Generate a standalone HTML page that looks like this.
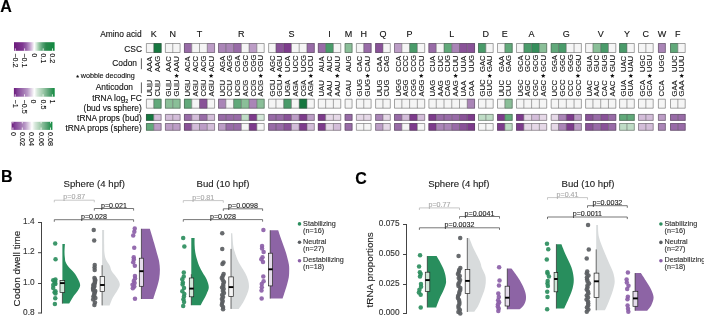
<!DOCTYPE html>
<html><head><meta charset="utf-8"><style>
html,body{margin:0;padding:0;background:#fff;}
body{width:704px;height:316px;overflow:hidden;}
svg{display:block;filter:blur(0.3px);}
text{font-family:"Liberation Sans",sans-serif;}
</style></head><body>
<svg width="704" height="316" viewBox="0 0 704 316">
<rect width="704" height="316" fill="#fff"/>
<text x="0.2" y="12.2" font-size="16" text-anchor="start" fill="#000" font-weight="bold" stroke="#000" stroke-width="0.12">A</text>
<text x="153.75" y="37.3" font-size="9" text-anchor="middle" fill="#111" stroke="#111" stroke-width="0.12">K</text>
<rect x="146" y="43.1" width="7.75" height="9.8" fill="#f5f5f5"/>
<rect x="153.75" y="43.1" width="7.75" height="9.8" fill="#15773f"/>
<path d="M146.4,43.5 H161.1 V52.5 H146.4 Z M153.75,43.5 V52.5" fill="none" stroke="#4a4a4a" stroke-opacity="0.6" stroke-width="0.8"/>
<rect x="146" y="98.8" width="7.75" height="9.8" fill="#f5f5f5"/>
<rect x="153.75" y="98.8" width="7.75" height="9.8" fill="#61a97a"/>
<path d="M146.4,99.2 H161.1 V108.2 H146.4 Z M153.75,99.2 V108.2" fill="none" stroke="#4a4a4a" stroke-opacity="0.6" stroke-width="0.8"/>
<rect x="146" y="114" width="7.75" height="6.8" fill="#15773f"/>
<rect x="153.75" y="114" width="7.75" height="6.8" fill="#d3bdd9"/>
<path d="M146.4,114.4 H161.1 V120.4 H146.4 Z M153.75,114.4 V120.4" fill="none" stroke="#4a4a4a" stroke-opacity="0.6" stroke-width="0.8"/>
<rect x="146" y="123.1" width="7.75" height="7.6" fill="#61a97a"/>
<rect x="153.75" y="123.1" width="7.75" height="7.6" fill="#bc9dc6"/>
<path d="M146.4,123.5 H161.1 V130.3 H146.4 Z M153.75,123.5 V130.3" fill="none" stroke="#4a4a4a" stroke-opacity="0.6" stroke-width="0.8"/>
<text transform="translate(152.47 72.0) rotate(-90)" font-size="7.6" fill="#111" stroke="#111" stroke-width="0.12">AAA</text>
<text transform="translate(152.47 96.4) rotate(-90)" font-size="7.6" fill="#111" stroke="#111" stroke-width="0.12">UUU</text>
<rect x="147.28" y="83.1" width="5.4" height="3.5" fill="#999" fill-opacity="0.95"/>
<text transform="translate(160.22 72.0) rotate(-90)" font-size="7.6" fill="#111" stroke="#111" stroke-width="0.12">AAG</text>
<text transform="translate(160.22 96.4) rotate(-90)" font-size="7.6" fill="#111" stroke="#111" stroke-width="0.12">CUU</text>
<rect x="155.03" y="83.1" width="5.4" height="3.5" fill="#999" fill-opacity="0.95"/>
<text x="172.75" y="37.3" font-size="9" text-anchor="middle" fill="#111" stroke="#111" stroke-width="0.12">N</text>
<rect x="165" y="43.1" width="7.75" height="9.8" fill="#f5f5f5"/>
<rect x="172.75" y="43.1" width="7.75" height="9.8" fill="#f5f5f5"/>
<path d="M165.4,43.5 H180.1 V52.5 H165.4 Z M172.75,43.5 V52.5" fill="none" stroke="#4a4a4a" stroke-opacity="0.6" stroke-width="0.8"/>
<rect x="165" y="98.8" width="7.75" height="9.8" fill="#8abf98"/>
<rect x="172.75" y="98.8" width="7.75" height="9.8" fill="#8abf98"/>
<path d="M165.4,99.2 H180.1 V108.2 H165.4 Z M172.75,99.2 V108.2" fill="none" stroke="#4a4a4a" stroke-opacity="0.6" stroke-width="0.8"/>
<rect x="165" y="114" width="7.75" height="6.8" fill="#d3bdd9"/>
<rect x="172.75" y="114" width="7.75" height="6.8" fill="#d3bdd9"/>
<path d="M165.4,114.4 H180.1 V120.4 H165.4 Z M172.75,114.4 V120.4" fill="none" stroke="#4a4a4a" stroke-opacity="0.6" stroke-width="0.8"/>
<rect x="165" y="123.1" width="7.75" height="7.6" fill="#bc9dc6"/>
<rect x="172.75" y="123.1" width="7.75" height="7.6" fill="#bc9dc6"/>
<path d="M165.4,123.5 H180.1 V130.3 H165.4 Z M172.75,123.5 V130.3" fill="none" stroke="#4a4a4a" stroke-opacity="0.6" stroke-width="0.8"/>
<text transform="translate(171.47 72.0) rotate(-90)" font-size="7.6" fill="#111" stroke="#111" stroke-width="0.12">AAC</text>
<text transform="translate(171.47 96.4) rotate(-90)" font-size="7.6" fill="#111" stroke="#111" stroke-width="0.12">GUU</text>
<rect x="166.28" y="83.1" width="5.4" height="3.5" fill="#999" fill-opacity="0.95"/>
<text transform="translate(179.22 72.0) rotate(-90)" font-size="7.6" fill="#111" stroke="#111" stroke-width="0.12">AAU</text>
<text transform="translate(179.22 96.4) rotate(-90)" font-size="7.6" fill="#111" stroke="#111" stroke-width="0.12">GUU</text>
<rect x="174.03" y="83.1" width="5.4" height="3.5" fill="#999" fill-opacity="0.95"/>
<path transform="translate(176.62 75.8)" d="M0.00,-2.40 L0.65,-0.89 L2.28,-0.74 L1.05,0.34 L1.41,1.94 L0.00,1.10 L-1.41,1.94 L-1.05,0.34 L-2.28,-0.74 L-0.65,-0.89 Z" fill="#111"/>
<text x="199.5" y="37.3" font-size="9" text-anchor="middle" fill="#111" stroke="#111" stroke-width="0.12">T</text>
<rect x="184" y="43.1" width="7.75" height="9.8" fill="#986ba7"/>
<rect x="191.75" y="43.1" width="7.75" height="9.8" fill="#f5f5f5"/>
<rect x="199.5" y="43.1" width="7.75" height="9.8" fill="#f5f5f5"/>
<rect x="207.25" y="43.1" width="7.75" height="9.8" fill="#bc9dc6"/>
<path d="M184.4,43.5 H214.6 V52.5 H184.4 Z M191.75,43.5 V52.5 M199.5,43.5 V52.5 M207.25,43.5 V52.5" fill="none" stroke="#4a4a4a" stroke-opacity="0.6" stroke-width="0.8"/>
<rect x="184" y="98.8" width="7.75" height="9.8" fill="#61a97a"/>
<rect x="191.75" y="98.8" width="7.75" height="9.8" fill="#f5f5f5"/>
<rect x="199.5" y="98.8" width="7.75" height="9.8" fill="#895298"/>
<rect x="207.25" y="98.8" width="7.75" height="9.8" fill="#f5f5f5"/>
<path d="M184.4,99.2 H214.6 V108.2 H184.4 Z M191.75,99.2 V108.2 M199.5,99.2 V108.2 M207.25,99.2 V108.2" fill="none" stroke="#4a4a4a" stroke-opacity="0.6" stroke-width="0.8"/>
<rect x="184" y="114" width="7.75" height="6.8" fill="#986ba7"/>
<rect x="191.75" y="114" width="7.75" height="6.8" fill="#d3bdd9"/>
<rect x="199.5" y="114" width="7.75" height="6.8" fill="#986ba7"/>
<rect x="207.25" y="114" width="7.75" height="6.8" fill="#d3bdd9"/>
<path d="M184.4,114.4 H214.6 V120.4 H184.4 Z M191.75,114.4 V120.4 M199.5,114.4 V120.4 M207.25,114.4 V120.4" fill="none" stroke="#4a4a4a" stroke-opacity="0.6" stroke-width="0.8"/>
<rect x="184" y="123.1" width="7.75" height="7.6" fill="#895298"/>
<rect x="191.75" y="123.1" width="7.75" height="7.6" fill="#d3bdd9"/>
<rect x="199.5" y="123.1" width="7.75" height="7.6" fill="#bc9dc6"/>
<rect x="207.25" y="123.1" width="7.75" height="7.6" fill="#d3bdd9"/>
<path d="M184.4,123.5 H214.6 V130.3 H184.4 Z M191.75,123.5 V130.3 M199.5,123.5 V130.3 M207.25,123.5 V130.3" fill="none" stroke="#4a4a4a" stroke-opacity="0.6" stroke-width="0.8"/>
<text transform="translate(190.47 72.0) rotate(-90)" font-size="7.6" fill="#111" stroke="#111" stroke-width="0.12">ACA</text>
<text transform="translate(190.47 96.4) rotate(-90)" font-size="7.6" fill="#111" stroke="#111" stroke-width="0.12">UGU</text>
<rect x="185.28" y="83.1" width="5.4" height="3.5" fill="#999" fill-opacity="0.55"/>
<text transform="translate(198.22 72.0) rotate(-90)" font-size="7.6" fill="#111" stroke="#111" stroke-width="0.12">ACC</text>
<text transform="translate(198.22 96.4) rotate(-90)" font-size="7.6" fill="#111" stroke="#111" stroke-width="0.12">AGU</text>
<rect x="193.03" y="83.1" width="5.4" height="3.5" fill="#999" fill-opacity="0.55"/>
<text transform="translate(205.97 72.0) rotate(-90)" font-size="7.6" fill="#111" stroke="#111" stroke-width="0.12">ACG</text>
<text transform="translate(205.97 96.4) rotate(-90)" font-size="7.6" fill="#111" stroke="#111" stroke-width="0.12">CGU</text>
<rect x="200.78" y="83.1" width="5.4" height="3.5" fill="#999" fill-opacity="0.55"/>
<text transform="translate(213.72 72.0) rotate(-90)" font-size="7.6" fill="#111" stroke="#111" stroke-width="0.12">ACU</text>
<text transform="translate(213.72 96.4) rotate(-90)" font-size="7.6" fill="#111" stroke="#111" stroke-width="0.12">AGU</text>
<rect x="208.53" y="83.1" width="5.4" height="3.5" fill="#999" fill-opacity="0.55"/>
<path transform="translate(211.12 75.8)" d="M0.00,-2.40 L0.65,-0.89 L2.28,-0.74 L1.05,0.34 L1.41,1.94 L0.00,1.10 L-1.41,1.94 L-1.05,0.34 L-2.28,-0.74 L-0.65,-0.89 Z" fill="#111"/>
<text x="241.35" y="37.3" font-size="9" text-anchor="middle" fill="#111" stroke="#111" stroke-width="0.12">R</text>
<rect x="218.1" y="43.1" width="7.75" height="9.8" fill="#aa85b7"/>
<rect x="225.85" y="43.1" width="7.75" height="9.8" fill="#aa85b7"/>
<rect x="233.6" y="43.1" width="7.75" height="9.8" fill="#986ba7"/>
<rect x="241.35" y="43.1" width="7.75" height="9.8" fill="#f5f5f5"/>
<rect x="249.1" y="43.1" width="7.75" height="9.8" fill="#bc9dc6"/>
<rect x="256.85" y="43.1" width="7.75" height="9.8" fill="#f5f5f5"/>
<path d="M218.5,43.5 H264.2 V52.5 H218.5 Z M225.85,43.5 V52.5 M233.6,43.5 V52.5 M241.35,43.5 V52.5 M249.1,43.5 V52.5 M256.85,43.5 V52.5" fill="none" stroke="#4a4a4a" stroke-opacity="0.6" stroke-width="0.8"/>
<rect x="218.1" y="98.8" width="7.75" height="9.8" fill="#aa85b7"/>
<rect x="225.85" y="98.8" width="7.75" height="9.8" fill="#f5f5f5"/>
<rect x="233.6" y="98.8" width="7.75" height="9.8" fill="#61a97a"/>
<rect x="241.35" y="98.8" width="7.75" height="9.8" fill="#8abf98"/>
<rect x="249.1" y="98.8" width="7.75" height="9.8" fill="#aa85b7"/>
<rect x="256.85" y="98.8" width="7.75" height="9.8" fill="#8abf98"/>
<path d="M218.5,99.2 H264.2 V108.2 H218.5 Z M225.85,99.2 V108.2 M233.6,99.2 V108.2 M241.35,99.2 V108.2 M249.1,99.2 V108.2 M256.85,99.2 V108.2" fill="none" stroke="#4a4a4a" stroke-opacity="0.6" stroke-width="0.8"/>
<rect x="218.1" y="114" width="7.75" height="6.8" fill="#986ba7"/>
<rect x="225.85" y="114" width="7.75" height="6.8" fill="#986ba7"/>
<rect x="233.6" y="114" width="7.75" height="6.8" fill="#986ba7"/>
<rect x="241.35" y="114" width="7.75" height="6.8" fill="#bfdcc6"/>
<rect x="249.1" y="114" width="7.75" height="6.8" fill="#7d3b8c"/>
<rect x="256.85" y="114" width="7.75" height="6.8" fill="#d4e7d9"/>
<path d="M218.5,114.4 H264.2 V120.4 H218.5 Z M225.85,114.4 V120.4 M233.6,114.4 V120.4 M241.35,114.4 V120.4 M249.1,114.4 V120.4 M256.85,114.4 V120.4" fill="none" stroke="#4a4a4a" stroke-opacity="0.6" stroke-width="0.8"/>
<rect x="218.1" y="123.1" width="7.75" height="7.6" fill="#bc9dc6"/>
<rect x="225.85" y="123.1" width="7.75" height="7.6" fill="#986ba7"/>
<rect x="233.6" y="123.1" width="7.75" height="7.6" fill="#986ba7"/>
<rect x="241.35" y="123.1" width="7.75" height="7.6" fill="#f5f5f5"/>
<rect x="249.1" y="123.1" width="7.75" height="7.6" fill="#7d3b8c"/>
<rect x="256.85" y="123.1" width="7.75" height="7.6" fill="#f5f5f5"/>
<path d="M218.5,123.5 H264.2 V130.3 H218.5 Z M225.85,123.5 V130.3 M233.6,123.5 V130.3 M241.35,123.5 V130.3 M249.1,123.5 V130.3 M256.85,123.5 V130.3" fill="none" stroke="#4a4a4a" stroke-opacity="0.6" stroke-width="0.8"/>
<text transform="translate(224.57 72.0) rotate(-90)" font-size="7.6" fill="#111" stroke="#111" stroke-width="0.12">AGA</text>
<text transform="translate(224.57 96.4) rotate(-90)" font-size="7.6" fill="#111" stroke="#111" stroke-width="0.12">UCU</text>
<rect x="219.38" y="83.1" width="5.4" height="3.5" fill="#999" fill-opacity="0.3"/>
<text transform="translate(232.32 72.0) rotate(-90)" font-size="7.6" fill="#111" stroke="#111" stroke-width="0.12">AGG</text>
<text transform="translate(232.32 96.4) rotate(-90)" font-size="7.6" fill="#111" stroke="#111" stroke-width="0.12">CCU</text>
<rect x="227.12" y="83.1" width="5.4" height="3.5" fill="#999" fill-opacity="0.3"/>
<text transform="translate(240.07 72.0) rotate(-90)" font-size="7.6" fill="#111" stroke="#111" stroke-width="0.12">CGA</text>
<text transform="translate(240.07 96.4) rotate(-90)" font-size="7.6" fill="#111" stroke="#111" stroke-width="0.12">UCG</text>
<rect x="234.88" y="83.1" width="5.4" height="3.5" fill="#999" fill-opacity="0.3"/>
<text transform="translate(247.82 72.0) rotate(-90)" font-size="7.6" fill="#111" stroke="#111" stroke-width="0.12">CGC</text>
<text transform="translate(247.82 96.4) rotate(-90)" font-size="7.6" fill="#111" stroke="#111" stroke-width="0.12">ACG</text>
<rect x="242.62" y="83.1" width="5.4" height="3.5" fill="#999" fill-opacity="0.3"/>
<text transform="translate(255.57 72.0) rotate(-90)" font-size="7.6" fill="#111" stroke="#111" stroke-width="0.12">CGG</text>
<text transform="translate(255.57 96.4) rotate(-90)" font-size="7.6" fill="#111" stroke="#111" stroke-width="0.12">CCG</text>
<rect x="250.38" y="83.1" width="5.4" height="3.5" fill="#999" fill-opacity="0.3"/>
<text transform="translate(263.33 72.0) rotate(-90)" font-size="7.6" fill="#111" stroke="#111" stroke-width="0.12">CGU</text>
<text transform="translate(263.33 96.4) rotate(-90)" font-size="7.6" fill="#111" stroke="#111" stroke-width="0.12">ACG</text>
<rect x="258.12" y="83.1" width="5.4" height="3.5" fill="#999" fill-opacity="0.3"/>
<path transform="translate(260.73 75.8)" d="M0.00,-2.40 L0.65,-0.89 L2.28,-0.74 L1.05,0.34 L1.41,1.94 L0.00,1.10 L-1.41,1.94 L-1.05,0.34 L-2.28,-0.74 L-0.65,-0.89 Z" fill="#111"/>
<text x="291.45" y="37.3" font-size="9" text-anchor="middle" fill="#111" stroke="#111" stroke-width="0.12">S</text>
<rect x="268.2" y="43.1" width="7.75" height="9.8" fill="#f5f5f5"/>
<rect x="275.95" y="43.1" width="7.75" height="9.8" fill="#895298"/>
<rect x="283.7" y="43.1" width="7.75" height="9.8" fill="#7d3b8c"/>
<rect x="291.45" y="43.1" width="7.75" height="9.8" fill="#f5f5f5"/>
<rect x="299.2" y="43.1" width="7.75" height="9.8" fill="#f5f5f5"/>
<rect x="306.95" y="43.1" width="7.75" height="9.8" fill="#986ba7"/>
<path d="M268.6,43.5 H314.3 V52.5 H268.6 Z M275.95,43.5 V52.5 M283.7,43.5 V52.5 M291.45,43.5 V52.5 M299.2,43.5 V52.5 M306.95,43.5 V52.5" fill="none" stroke="#4a4a4a" stroke-opacity="0.6" stroke-width="0.8"/>
<rect x="268.2" y="98.8" width="7.75" height="9.8" fill="#f5f5f5"/>
<rect x="275.95" y="98.8" width="7.75" height="9.8" fill="#f5f5f5"/>
<rect x="283.7" y="98.8" width="7.75" height="9.8" fill="#4a9b6a"/>
<rect x="291.45" y="98.8" width="7.75" height="9.8" fill="#f5f5f5"/>
<rect x="299.2" y="98.8" width="7.75" height="9.8" fill="#15773f"/>
<rect x="306.95" y="98.8" width="7.75" height="9.8" fill="#f5f5f5"/>
<path d="M268.6,99.2 H314.3 V108.2 H268.6 Z M275.95,99.2 V108.2 M283.7,99.2 V108.2 M291.45,99.2 V108.2 M299.2,99.2 V108.2 M306.95,99.2 V108.2" fill="none" stroke="#4a4a4a" stroke-opacity="0.6" stroke-width="0.8"/>
<rect x="268.2" y="114" width="7.75" height="6.8" fill="#986ba7"/>
<rect x="275.95" y="114" width="7.75" height="6.8" fill="#986ba7"/>
<rect x="283.7" y="114" width="7.75" height="6.8" fill="#895298"/>
<rect x="291.45" y="114" width="7.75" height="6.8" fill="#bc9dc6"/>
<rect x="299.2" y="114" width="7.75" height="6.8" fill="#7d3b8c"/>
<rect x="306.95" y="114" width="7.75" height="6.8" fill="#bc9dc6"/>
<path d="M268.6,114.4 H314.3 V120.4 H268.6 Z M275.95,114.4 V120.4 M283.7,114.4 V120.4 M291.45,114.4 V120.4 M299.2,114.4 V120.4 M306.95,114.4 V120.4" fill="none" stroke="#4a4a4a" stroke-opacity="0.6" stroke-width="0.8"/>
<rect x="268.2" y="123.1" width="7.75" height="7.6" fill="#986ba7"/>
<rect x="275.95" y="123.1" width="7.75" height="7.6" fill="#986ba7"/>
<rect x="283.7" y="123.1" width="7.75" height="7.6" fill="#895298"/>
<rect x="291.45" y="123.1" width="7.75" height="7.6" fill="#d3bdd9"/>
<rect x="299.2" y="123.1" width="7.75" height="7.6" fill="#7d3b8c"/>
<rect x="306.95" y="123.1" width="7.75" height="7.6" fill="#d3bdd9"/>
<path d="M268.6,123.5 H314.3 V130.3 H268.6 Z M275.95,123.5 V130.3 M283.7,123.5 V130.3 M291.45,123.5 V130.3 M299.2,123.5 V130.3 M306.95,123.5 V130.3" fill="none" stroke="#4a4a4a" stroke-opacity="0.6" stroke-width="0.8"/>
<text transform="translate(274.68 72.0) rotate(-90)" font-size="7.6" fill="#111" stroke="#111" stroke-width="0.12">AGC</text>
<text transform="translate(274.68 96.4) rotate(-90)" font-size="7.6" fill="#111" stroke="#111" stroke-width="0.12">GCU</text>
<rect x="269.47" y="83.1" width="5.4" height="3.5" fill="#999" fill-opacity="0.3"/>
<text transform="translate(282.43 72.0) rotate(-90)" font-size="7.6" fill="#111" stroke="#111" stroke-width="0.12">AGU</text>
<text transform="translate(282.43 96.4) rotate(-90)" font-size="7.6" fill="#111" stroke="#111" stroke-width="0.12">GCU</text>
<rect x="277.22" y="83.1" width="5.4" height="3.5" fill="#999" fill-opacity="0.3"/>
<path transform="translate(279.82 75.8)" d="M0.00,-2.40 L0.65,-0.89 L2.28,-0.74 L1.05,0.34 L1.41,1.94 L0.00,1.10 L-1.41,1.94 L-1.05,0.34 L-2.28,-0.74 L-0.65,-0.89 Z" fill="#111"/>
<text transform="translate(290.18 72.0) rotate(-90)" font-size="7.6" fill="#111" stroke="#111" stroke-width="0.12">UCA</text>
<text transform="translate(290.18 96.4) rotate(-90)" font-size="7.6" fill="#111" stroke="#111" stroke-width="0.12">UGA</text>
<rect x="284.97" y="83.1" width="5.4" height="3.5" fill="#999" fill-opacity="0.3"/>
<text transform="translate(297.93 72.0) rotate(-90)" font-size="7.6" fill="#111" stroke="#111" stroke-width="0.12">UCC</text>
<text transform="translate(297.93 96.4) rotate(-90)" font-size="7.6" fill="#111" stroke="#111" stroke-width="0.12">AGA</text>
<rect x="292.72" y="83.1" width="5.4" height="3.5" fill="#999" fill-opacity="0.3"/>
<text transform="translate(305.68 72.0) rotate(-90)" font-size="7.6" fill="#111" stroke="#111" stroke-width="0.12">UCG</text>
<text transform="translate(305.68 96.4) rotate(-90)" font-size="7.6" fill="#111" stroke="#111" stroke-width="0.12">CGA</text>
<rect x="300.47" y="83.1" width="5.4" height="3.5" fill="#999" fill-opacity="0.3"/>
<text transform="translate(313.43 72.0) rotate(-90)" font-size="7.6" fill="#111" stroke="#111" stroke-width="0.12">UCU</text>
<text transform="translate(313.43 96.4) rotate(-90)" font-size="7.6" fill="#111" stroke="#111" stroke-width="0.12">AGA</text>
<rect x="308.22" y="83.1" width="5.4" height="3.5" fill="#999" fill-opacity="0.3"/>
<path transform="translate(310.82 75.8)" d="M0.00,-2.40 L0.65,-0.89 L2.28,-0.74 L1.05,0.34 L1.41,1.94 L0.00,1.10 L-1.41,1.94 L-1.05,0.34 L-2.28,-0.74 L-0.65,-0.89 Z" fill="#111"/>
<text x="329.52" y="37.3" font-size="9" text-anchor="middle" fill="#111" stroke="#111" stroke-width="0.12">I</text>
<rect x="317.9" y="43.1" width="7.75" height="9.8" fill="#986ba7"/>
<rect x="325.65" y="43.1" width="7.75" height="9.8" fill="#4a9b6a"/>
<rect x="333.4" y="43.1" width="7.75" height="9.8" fill="#f5f5f5"/>
<path d="M318.3,43.5 H340.75 V52.5 H318.3 Z M325.65,43.5 V52.5 M333.4,43.5 V52.5" fill="none" stroke="#4a4a4a" stroke-opacity="0.6" stroke-width="0.8"/>
<rect x="317.9" y="98.8" width="7.75" height="9.8" fill="#f5f5f5"/>
<rect x="325.65" y="98.8" width="7.75" height="9.8" fill="#f5f5f5"/>
<rect x="333.4" y="98.8" width="7.75" height="9.8" fill="#f5f5f5"/>
<path d="M318.3,99.2 H340.75 V108.2 H318.3 Z M325.65,99.2 V108.2 M333.4,99.2 V108.2" fill="none" stroke="#4a4a4a" stroke-opacity="0.6" stroke-width="0.8"/>
<rect x="317.9" y="114" width="7.75" height="6.8" fill="#7d3b8c"/>
<rect x="325.65" y="114" width="7.75" height="6.8" fill="#e5d8e7"/>
<rect x="333.4" y="114" width="7.75" height="6.8" fill="#e5d8e7"/>
<path d="M318.3,114.4 H340.75 V120.4 H318.3 Z M325.65,114.4 V120.4 M333.4,114.4 V120.4" fill="none" stroke="#4a4a4a" stroke-opacity="0.6" stroke-width="0.8"/>
<rect x="317.9" y="123.1" width="7.75" height="7.6" fill="#7d3b8c"/>
<rect x="325.65" y="123.1" width="7.75" height="7.6" fill="#e5d8e7"/>
<rect x="333.4" y="123.1" width="7.75" height="7.6" fill="#d3bdd9"/>
<path d="M318.3,123.5 H340.75 V130.3 H318.3 Z M325.65,123.5 V130.3 M333.4,123.5 V130.3" fill="none" stroke="#4a4a4a" stroke-opacity="0.6" stroke-width="0.8"/>
<text transform="translate(324.38 72.0) rotate(-90)" font-size="7.6" fill="#111" stroke="#111" stroke-width="0.12">AUA</text>
<text transform="translate(324.38 96.4) rotate(-90)" font-size="7.6" fill="#111" stroke="#111" stroke-width="0.12">UAU</text>
<text transform="translate(332.12 72.0) rotate(-90)" font-size="7.6" fill="#111" stroke="#111" stroke-width="0.12">AUC</text>
<text transform="translate(332.12 96.4) rotate(-90)" font-size="7.6" fill="#111" stroke="#111" stroke-width="0.12">AAU</text>
<text transform="translate(339.88 72.0) rotate(-90)" font-size="7.6" fill="#111" stroke="#111" stroke-width="0.12">AUU</text>
<text transform="translate(339.88 96.4) rotate(-90)" font-size="7.6" fill="#111" stroke="#111" stroke-width="0.12">AAU</text>
<path transform="translate(337.27 75.8)" d="M0.00,-2.40 L0.65,-0.89 L2.28,-0.74 L1.05,0.34 L1.41,1.94 L0.00,1.10 L-1.41,1.94 L-1.05,0.34 L-2.28,-0.74 L-0.65,-0.89 Z" fill="#111"/>
<text x="348.57" y="37.3" font-size="9" text-anchor="middle" fill="#111" stroke="#111" stroke-width="0.12">M</text>
<rect x="344.7" y="43.1" width="7.75" height="9.8" fill="#8abf98"/>
<path d="M345.1,43.5 H352.05 V52.5 H345.1 Z" fill="none" stroke="#4a4a4a" stroke-opacity="0.6" stroke-width="0.8"/>
<rect x="344.7" y="98.8" width="7.75" height="9.8" fill="#f5f5f5"/>
<path d="M345.1,99.2 H352.05 V108.2 H345.1 Z" fill="none" stroke="#4a4a4a" stroke-opacity="0.6" stroke-width="0.8"/>
<rect x="344.7" y="114" width="7.75" height="6.8" fill="#986ba7"/>
<path d="M345.1,114.4 H352.05 V120.4 H345.1 Z" fill="none" stroke="#4a4a4a" stroke-opacity="0.6" stroke-width="0.8"/>
<rect x="344.7" y="123.1" width="7.75" height="7.6" fill="#986ba7"/>
<path d="M345.1,123.5 H352.05 V130.3 H345.1 Z" fill="none" stroke="#4a4a4a" stroke-opacity="0.6" stroke-width="0.8"/>
<text transform="translate(351.18 72.0) rotate(-90)" font-size="7.6" fill="#111" stroke="#111" stroke-width="0.12">AUG</text>
<text transform="translate(351.18 96.4) rotate(-90)" font-size="7.6" fill="#111" stroke="#111" stroke-width="0.12">CAU</text>
<text x="363.75" y="37.3" font-size="9" text-anchor="middle" fill="#111" stroke="#111" stroke-width="0.12">H</text>
<rect x="356" y="43.1" width="7.75" height="9.8" fill="#f5f5f5"/>
<rect x="363.75" y="43.1" width="7.75" height="9.8" fill="#986ba7"/>
<path d="M356.4,43.5 H371.1 V52.5 H356.4 Z M363.75,43.5 V52.5" fill="none" stroke="#4a4a4a" stroke-opacity="0.6" stroke-width="0.8"/>
<rect x="356" y="98.8" width="7.75" height="9.8" fill="#f5f5f5"/>
<rect x="363.75" y="98.8" width="7.75" height="9.8" fill="#f5f5f5"/>
<path d="M356.4,99.2 H371.1 V108.2 H356.4 Z M363.75,99.2 V108.2" fill="none" stroke="#4a4a4a" stroke-opacity="0.6" stroke-width="0.8"/>
<rect x="356" y="114" width="7.75" height="6.8" fill="#e5d8e7"/>
<rect x="363.75" y="114" width="7.75" height="6.8" fill="#e5d8e7"/>
<path d="M356.4,114.4 H371.1 V120.4 H356.4 Z M363.75,114.4 V120.4" fill="none" stroke="#4a4a4a" stroke-opacity="0.6" stroke-width="0.8"/>
<rect x="356" y="123.1" width="7.75" height="7.6" fill="#f5f5f5"/>
<rect x="363.75" y="123.1" width="7.75" height="7.6" fill="#f5f5f5"/>
<path d="M356.4,123.5 H371.1 V130.3 H356.4 Z M363.75,123.5 V130.3" fill="none" stroke="#4a4a4a" stroke-opacity="0.6" stroke-width="0.8"/>
<text transform="translate(362.48 72.0) rotate(-90)" font-size="7.6" fill="#111" stroke="#111" stroke-width="0.12">CAC</text>
<text transform="translate(362.48 96.4) rotate(-90)" font-size="7.6" fill="#111" stroke="#111" stroke-width="0.12">GUG</text>
<text transform="translate(370.23 72.0) rotate(-90)" font-size="7.6" fill="#111" stroke="#111" stroke-width="0.12">CAU</text>
<text transform="translate(370.23 96.4) rotate(-90)" font-size="7.6" fill="#111" stroke="#111" stroke-width="0.12">GUG</text>
<path transform="translate(367.62 75.8)" d="M0.00,-2.40 L0.65,-0.89 L2.28,-0.74 L1.05,0.34 L1.41,1.94 L0.00,1.10 L-1.41,1.94 L-1.05,0.34 L-2.28,-0.74 L-0.65,-0.89 Z" fill="#111"/>
<text x="382.95" y="37.3" font-size="9" text-anchor="middle" fill="#111" stroke="#111" stroke-width="0.12">Q</text>
<rect x="375.2" y="43.1" width="7.75" height="9.8" fill="#895298"/>
<rect x="382.95" y="43.1" width="7.75" height="9.8" fill="#f5f5f5"/>
<path d="M375.6,43.5 H390.3 V52.5 H375.6 Z M382.95,43.5 V52.5" fill="none" stroke="#4a4a4a" stroke-opacity="0.6" stroke-width="0.8"/>
<rect x="375.2" y="98.8" width="7.75" height="9.8" fill="#f5f5f5"/>
<rect x="382.95" y="98.8" width="7.75" height="9.8" fill="#f5f5f5"/>
<path d="M375.6,99.2 H390.3 V108.2 H375.6 Z M382.95,99.2 V108.2" fill="none" stroke="#4a4a4a" stroke-opacity="0.6" stroke-width="0.8"/>
<rect x="375.2" y="114" width="7.75" height="6.8" fill="#aa85b7"/>
<rect x="382.95" y="114" width="7.75" height="6.8" fill="#e5d8e7"/>
<path d="M375.6,114.4 H390.3 V120.4 H375.6 Z M382.95,114.4 V120.4" fill="none" stroke="#4a4a4a" stroke-opacity="0.6" stroke-width="0.8"/>
<rect x="375.2" y="123.1" width="7.75" height="7.6" fill="#bc9dc6"/>
<rect x="382.95" y="123.1" width="7.75" height="7.6" fill="#e5d8e7"/>
<path d="M375.6,123.5 H390.3 V130.3 H375.6 Z M382.95,123.5 V130.3" fill="none" stroke="#4a4a4a" stroke-opacity="0.6" stroke-width="0.8"/>
<text transform="translate(381.68 72.0) rotate(-90)" font-size="7.6" fill="#111" stroke="#111" stroke-width="0.12">CAA</text>
<text transform="translate(381.68 96.4) rotate(-90)" font-size="7.6" fill="#111" stroke="#111" stroke-width="0.12">UUG</text>
<text transform="translate(389.43 72.0) rotate(-90)" font-size="7.6" fill="#111" stroke="#111" stroke-width="0.12">CAG</text>
<text transform="translate(389.43 96.4) rotate(-90)" font-size="7.6" fill="#111" stroke="#111" stroke-width="0.12">CUG</text>
<text x="409.6" y="37.3" font-size="9" text-anchor="middle" fill="#111" stroke="#111" stroke-width="0.12">P</text>
<rect x="394.1" y="43.1" width="7.75" height="9.8" fill="#bc9dc6"/>
<rect x="401.85" y="43.1" width="7.75" height="9.8" fill="#f5f5f5"/>
<rect x="409.6" y="43.1" width="7.75" height="9.8" fill="#4a9b6a"/>
<rect x="417.35" y="43.1" width="7.75" height="9.8" fill="#f5f5f5"/>
<path d="M394.5,43.5 H424.7 V52.5 H394.5 Z M401.85,43.5 V52.5 M409.6,43.5 V52.5 M417.35,43.5 V52.5" fill="none" stroke="#4a4a4a" stroke-opacity="0.6" stroke-width="0.8"/>
<rect x="394.1" y="98.8" width="7.75" height="9.8" fill="#f5f5f5"/>
<rect x="401.85" y="98.8" width="7.75" height="9.8" fill="#f5f5f5"/>
<rect x="409.6" y="98.8" width="7.75" height="9.8" fill="#f5f5f5"/>
<rect x="417.35" y="98.8" width="7.75" height="9.8" fill="#f5f5f5"/>
<path d="M394.5,99.2 H424.7 V108.2 H394.5 Z M401.85,99.2 V108.2 M409.6,99.2 V108.2 M417.35,99.2 V108.2" fill="none" stroke="#4a4a4a" stroke-opacity="0.6" stroke-width="0.8"/>
<rect x="394.1" y="114" width="7.75" height="6.8" fill="#986ba7"/>
<rect x="401.85" y="114" width="7.75" height="6.8" fill="#d3bdd9"/>
<rect x="409.6" y="114" width="7.75" height="6.8" fill="#7d3b8c"/>
<rect x="417.35" y="114" width="7.75" height="6.8" fill="#d3bdd9"/>
<path d="M394.5,114.4 H424.7 V120.4 H394.5 Z M401.85,114.4 V120.4 M409.6,114.4 V120.4 M417.35,114.4 V120.4" fill="none" stroke="#4a4a4a" stroke-opacity="0.6" stroke-width="0.8"/>
<rect x="394.1" y="123.1" width="7.75" height="7.6" fill="#986ba7"/>
<rect x="401.85" y="123.1" width="7.75" height="7.6" fill="#f5f5f5"/>
<rect x="409.6" y="123.1" width="7.75" height="7.6" fill="#7d3b8c"/>
<rect x="417.35" y="123.1" width="7.75" height="7.6" fill="#f5f5f5"/>
<path d="M394.5,123.5 H424.7 V130.3 H394.5 Z M401.85,123.5 V130.3 M409.6,123.5 V130.3 M417.35,123.5 V130.3" fill="none" stroke="#4a4a4a" stroke-opacity="0.6" stroke-width="0.8"/>
<text transform="translate(400.58 72.0) rotate(-90)" font-size="7.6" fill="#111" stroke="#111" stroke-width="0.12">CCA</text>
<text transform="translate(400.58 96.4) rotate(-90)" font-size="7.6" fill="#111" stroke="#111" stroke-width="0.12">UGG</text>
<text transform="translate(408.33 72.0) rotate(-90)" font-size="7.6" fill="#111" stroke="#111" stroke-width="0.12">CCC</text>
<text transform="translate(408.33 96.4) rotate(-90)" font-size="7.6" fill="#111" stroke="#111" stroke-width="0.12">AGG</text>
<text transform="translate(416.08 72.0) rotate(-90)" font-size="7.6" fill="#111" stroke="#111" stroke-width="0.12">CCG</text>
<text transform="translate(416.08 96.4) rotate(-90)" font-size="7.6" fill="#111" stroke="#111" stroke-width="0.12">CGG</text>
<text transform="translate(423.83 72.0) rotate(-90)" font-size="7.6" fill="#111" stroke="#111" stroke-width="0.12">CCU</text>
<text transform="translate(423.83 96.4) rotate(-90)" font-size="7.6" fill="#111" stroke="#111" stroke-width="0.12">AGG</text>
<path transform="translate(421.23 75.8)" d="M0.00,-2.40 L0.65,-0.89 L2.28,-0.74 L1.05,0.34 L1.41,1.94 L0.00,1.10 L-1.41,1.94 L-1.05,0.34 L-2.28,-0.74 L-0.65,-0.89 Z" fill="#111"/>
<text x="451.75" y="37.3" font-size="9" text-anchor="middle" fill="#111" stroke="#111" stroke-width="0.12">L</text>
<rect x="428.5" y="43.1" width="7.75" height="9.8" fill="#986ba7"/>
<rect x="436.25" y="43.1" width="7.75" height="9.8" fill="#f5f5f5"/>
<rect x="444" y="43.1" width="7.75" height="9.8" fill="#61a97a"/>
<rect x="451.75" y="43.1" width="7.75" height="9.8" fill="#aa85b7"/>
<rect x="459.5" y="43.1" width="7.75" height="9.8" fill="#895298"/>
<rect x="467.25" y="43.1" width="7.75" height="9.8" fill="#895298"/>
<path d="M428.9,43.5 H474.6 V52.5 H428.9 Z M436.25,43.5 V52.5 M444,43.5 V52.5 M451.75,43.5 V52.5 M459.5,43.5 V52.5 M467.25,43.5 V52.5" fill="none" stroke="#4a4a4a" stroke-opacity="0.6" stroke-width="0.8"/>
<rect x="428.5" y="98.8" width="7.75" height="9.8" fill="#f5f5f5"/>
<rect x="436.25" y="98.8" width="7.75" height="9.8" fill="#f5f5f5"/>
<rect x="444" y="98.8" width="7.75" height="9.8" fill="#f5f5f5"/>
<rect x="451.75" y="98.8" width="7.75" height="9.8" fill="#f5f5f5"/>
<rect x="459.5" y="98.8" width="7.75" height="9.8" fill="#f5f5f5"/>
<rect x="467.25" y="98.8" width="7.75" height="9.8" fill="#aa85b7"/>
<path d="M428.9,99.2 H474.6 V108.2 H428.9 Z M436.25,99.2 V108.2 M444,99.2 V108.2 M451.75,99.2 V108.2 M459.5,99.2 V108.2 M467.25,99.2 V108.2" fill="none" stroke="#4a4a4a" stroke-opacity="0.6" stroke-width="0.8"/>
<rect x="428.5" y="114" width="7.75" height="6.8" fill="#7d3b8c"/>
<rect x="436.25" y="114" width="7.75" height="6.8" fill="#986ba7"/>
<rect x="444" y="114" width="7.75" height="6.8" fill="#986ba7"/>
<rect x="451.75" y="114" width="7.75" height="6.8" fill="#986ba7"/>
<rect x="459.5" y="114" width="7.75" height="6.8" fill="#895298"/>
<rect x="467.25" y="114" width="7.75" height="6.8" fill="#7d3b8c"/>
<path d="M428.9,114.4 H474.6 V120.4 H428.9 Z M436.25,114.4 V120.4 M444,114.4 V120.4 M451.75,114.4 V120.4 M459.5,114.4 V120.4 M467.25,114.4 V120.4" fill="none" stroke="#4a4a4a" stroke-opacity="0.6" stroke-width="0.8"/>
<rect x="428.5" y="123.1" width="7.75" height="7.6" fill="#7d3b8c"/>
<rect x="436.25" y="123.1" width="7.75" height="7.6" fill="#aa85b7"/>
<rect x="444" y="123.1" width="7.75" height="7.6" fill="#aa85b7"/>
<rect x="451.75" y="123.1" width="7.75" height="7.6" fill="#986ba7"/>
<rect x="459.5" y="123.1" width="7.75" height="7.6" fill="#895298"/>
<rect x="467.25" y="123.1" width="7.75" height="7.6" fill="#7d3b8c"/>
<path d="M428.9,123.5 H474.6 V130.3 H428.9 Z M436.25,123.5 V130.3 M444,123.5 V130.3 M451.75,123.5 V130.3 M459.5,123.5 V130.3 M467.25,123.5 V130.3" fill="none" stroke="#4a4a4a" stroke-opacity="0.6" stroke-width="0.8"/>
<text transform="translate(434.98 72.0) rotate(-90)" font-size="7.6" fill="#111" stroke="#111" stroke-width="0.12">CUA</text>
<text transform="translate(434.98 96.4) rotate(-90)" font-size="7.6" fill="#111" stroke="#111" stroke-width="0.12">UAG</text>
<text transform="translate(442.73 72.0) rotate(-90)" font-size="7.6" fill="#111" stroke="#111" stroke-width="0.12">CUC</text>
<text transform="translate(442.73 96.4) rotate(-90)" font-size="7.6" fill="#111" stroke="#111" stroke-width="0.12">AAG</text>
<text transform="translate(450.48 72.0) rotate(-90)" font-size="7.6" fill="#111" stroke="#111" stroke-width="0.12">CUG</text>
<text transform="translate(450.48 96.4) rotate(-90)" font-size="7.6" fill="#111" stroke="#111" stroke-width="0.12">CAG</text>
<text transform="translate(458.23 72.0) rotate(-90)" font-size="7.6" fill="#111" stroke="#111" stroke-width="0.12">CUU</text>
<text transform="translate(458.23 96.4) rotate(-90)" font-size="7.6" fill="#111" stroke="#111" stroke-width="0.12">AAG</text>
<path transform="translate(455.62 75.8)" d="M0.00,-2.40 L0.65,-0.89 L2.28,-0.74 L1.05,0.34 L1.41,1.94 L0.00,1.10 L-1.41,1.94 L-1.05,0.34 L-2.28,-0.74 L-0.65,-0.89 Z" fill="#111"/>
<text transform="translate(465.98 72.0) rotate(-90)" font-size="7.6" fill="#111" stroke="#111" stroke-width="0.12">UUA</text>
<text transform="translate(465.98 96.4) rotate(-90)" font-size="7.6" fill="#111" stroke="#111" stroke-width="0.12">UAA</text>
<text transform="translate(473.73 72.0) rotate(-90)" font-size="7.6" fill="#111" stroke="#111" stroke-width="0.12">UUG</text>
<text transform="translate(473.73 96.4) rotate(-90)" font-size="7.6" fill="#111" stroke="#111" stroke-width="0.12">CAA</text>
<text x="485.85" y="37.3" font-size="9" text-anchor="middle" fill="#111" stroke="#111" stroke-width="0.12">D</text>
<rect x="478.1" y="43.1" width="7.75" height="9.8" fill="#4a9b6a"/>
<rect x="485.85" y="43.1" width="7.75" height="9.8" fill="#f5f5f5"/>
<path d="M478.5,43.5 H493.2 V52.5 H478.5 Z M485.85,43.5 V52.5" fill="none" stroke="#4a4a4a" stroke-opacity="0.6" stroke-width="0.8"/>
<rect x="478.1" y="98.8" width="7.75" height="9.8" fill="#f5f5f5"/>
<rect x="485.85" y="98.8" width="7.75" height="9.8" fill="#f5f5f5"/>
<path d="M478.5,99.2 H493.2 V108.2 H478.5 Z M485.85,99.2 V108.2" fill="none" stroke="#4a4a4a" stroke-opacity="0.6" stroke-width="0.8"/>
<rect x="478.1" y="114" width="7.75" height="6.8" fill="#bfdcc6"/>
<rect x="485.85" y="114" width="7.75" height="6.8" fill="#bfdcc6"/>
<path d="M478.5,114.4 H493.2 V120.4 H478.5 Z M485.85,114.4 V120.4" fill="none" stroke="#4a4a4a" stroke-opacity="0.6" stroke-width="0.8"/>
<rect x="478.1" y="123.1" width="7.75" height="7.6" fill="#f5f5f5"/>
<rect x="485.85" y="123.1" width="7.75" height="7.6" fill="#f5f5f5"/>
<path d="M478.5,123.5 H493.2 V130.3 H478.5 Z M485.85,123.5 V130.3" fill="none" stroke="#4a4a4a" stroke-opacity="0.6" stroke-width="0.8"/>
<text transform="translate(484.58 72.0) rotate(-90)" font-size="7.6" fill="#111" stroke="#111" stroke-width="0.12">GAC</text>
<text transform="translate(484.58 96.4) rotate(-90)" font-size="7.6" fill="#111" stroke="#111" stroke-width="0.12">GUC</text>
<text transform="translate(492.33 72.0) rotate(-90)" font-size="7.6" fill="#111" stroke="#111" stroke-width="0.12">GAU</text>
<text transform="translate(492.33 96.4) rotate(-90)" font-size="7.6" fill="#111" stroke="#111" stroke-width="0.12">GUC</text>
<path transform="translate(489.73 75.8)" d="M0.00,-2.40 L0.65,-0.89 L2.28,-0.74 L1.05,0.34 L1.41,1.94 L0.00,1.10 L-1.41,1.94 L-1.05,0.34 L-2.28,-0.74 L-0.65,-0.89 Z" fill="#111"/>
<text x="504.85" y="37.3" font-size="9" text-anchor="middle" fill="#111" stroke="#111" stroke-width="0.12">E</text>
<rect x="497.1" y="43.1" width="7.75" height="9.8" fill="#f5f5f5"/>
<rect x="504.85" y="43.1" width="7.75" height="9.8" fill="#61a97a"/>
<path d="M497.5,43.5 H512.2 V52.5 H497.5 Z M504.85,43.5 V52.5" fill="none" stroke="#4a4a4a" stroke-opacity="0.6" stroke-width="0.8"/>
<rect x="497.1" y="98.8" width="7.75" height="9.8" fill="#f5f5f5"/>
<rect x="504.85" y="98.8" width="7.75" height="9.8" fill="#8abf98"/>
<path d="M497.5,99.2 H512.2 V108.2 H497.5 Z M504.85,99.2 V108.2" fill="none" stroke="#4a4a4a" stroke-opacity="0.6" stroke-width="0.8"/>
<rect x="497.1" y="114" width="7.75" height="6.8" fill="#7d3b8c"/>
<rect x="504.85" y="114" width="7.75" height="6.8" fill="#61a97a"/>
<path d="M497.5,114.4 H512.2 V120.4 H497.5 Z M504.85,114.4 V120.4" fill="none" stroke="#4a4a4a" stroke-opacity="0.6" stroke-width="0.8"/>
<rect x="497.1" y="123.1" width="7.75" height="7.6" fill="#7d3b8c"/>
<rect x="504.85" y="123.1" width="7.75" height="7.6" fill="#bfdcc6"/>
<path d="M497.5,123.5 H512.2 V130.3 H497.5 Z M504.85,123.5 V130.3" fill="none" stroke="#4a4a4a" stroke-opacity="0.6" stroke-width="0.8"/>
<text transform="translate(503.58 72.0) rotate(-90)" font-size="7.6" fill="#111" stroke="#111" stroke-width="0.12">GAA</text>
<text transform="translate(503.58 96.4) rotate(-90)" font-size="7.6" fill="#111" stroke="#111" stroke-width="0.12">UUC</text>
<text transform="translate(511.33 72.0) rotate(-90)" font-size="7.6" fill="#111" stroke="#111" stroke-width="0.12">GAG</text>
<text transform="translate(511.33 96.4) rotate(-90)" font-size="7.6" fill="#111" stroke="#111" stroke-width="0.12">CUC</text>
<text x="531.6" y="37.3" font-size="9" text-anchor="middle" fill="#111" stroke="#111" stroke-width="0.12">A</text>
<rect x="516.1" y="43.1" width="7.75" height="9.8" fill="#f5f5f5"/>
<rect x="523.85" y="43.1" width="7.75" height="9.8" fill="#4a9b6a"/>
<rect x="531.6" y="43.1" width="7.75" height="9.8" fill="#358e5b"/>
<rect x="539.35" y="43.1" width="7.75" height="9.8" fill="#8abf98"/>
<path d="M516.5,43.5 H546.7 V52.5 H516.5 Z M523.85,43.5 V52.5 M531.6,43.5 V52.5 M539.35,43.5 V52.5" fill="none" stroke="#4a4a4a" stroke-opacity="0.6" stroke-width="0.8"/>
<rect x="516.1" y="98.8" width="7.75" height="9.8" fill="#f5f5f5"/>
<rect x="523.85" y="98.8" width="7.75" height="9.8" fill="#f5f5f5"/>
<rect x="531.6" y="98.8" width="7.75" height="9.8" fill="#f5f5f5"/>
<rect x="539.35" y="98.8" width="7.75" height="9.8" fill="#f5f5f5"/>
<path d="M516.5,99.2 H546.7 V108.2 H516.5 Z M523.85,99.2 V108.2 M531.6,99.2 V108.2 M539.35,99.2 V108.2" fill="none" stroke="#4a4a4a" stroke-opacity="0.6" stroke-width="0.8"/>
<rect x="516.1" y="114" width="7.75" height="6.8" fill="#7d3b8c"/>
<rect x="523.85" y="114" width="7.75" height="6.8" fill="#e5d8e7"/>
<rect x="531.6" y="114" width="7.75" height="6.8" fill="#d3bdd9"/>
<rect x="539.35" y="114" width="7.75" height="6.8" fill="#e5d8e7"/>
<path d="M516.5,114.4 H546.7 V120.4 H516.5 Z M523.85,114.4 V120.4 M531.6,114.4 V120.4 M539.35,114.4 V120.4" fill="none" stroke="#4a4a4a" stroke-opacity="0.6" stroke-width="0.8"/>
<rect x="516.1" y="123.1" width="7.75" height="7.6" fill="#7d3b8c"/>
<rect x="523.85" y="123.1" width="7.75" height="7.6" fill="#e5d8e7"/>
<rect x="531.6" y="123.1" width="7.75" height="7.6" fill="#e5d8e7"/>
<rect x="539.35" y="123.1" width="7.75" height="7.6" fill="#e5d8e7"/>
<path d="M516.5,123.5 H546.7 V130.3 H516.5 Z M523.85,123.5 V130.3 M531.6,123.5 V130.3 M539.35,123.5 V130.3" fill="none" stroke="#4a4a4a" stroke-opacity="0.6" stroke-width="0.8"/>
<text transform="translate(522.58 72.0) rotate(-90)" font-size="7.6" fill="#111" stroke="#111" stroke-width="0.12">GCA</text>
<text transform="translate(522.58 96.4) rotate(-90)" font-size="7.6" fill="#111" stroke="#111" stroke-width="0.12">UGC</text>
<text transform="translate(530.33 72.0) rotate(-90)" font-size="7.6" fill="#111" stroke="#111" stroke-width="0.12">GCC</text>
<text transform="translate(530.33 96.4) rotate(-90)" font-size="7.6" fill="#111" stroke="#111" stroke-width="0.12">AGC</text>
<text transform="translate(538.08 72.0) rotate(-90)" font-size="7.6" fill="#111" stroke="#111" stroke-width="0.12">GCG</text>
<text transform="translate(538.08 96.4) rotate(-90)" font-size="7.6" fill="#111" stroke="#111" stroke-width="0.12">CGC</text>
<text transform="translate(545.83 72.0) rotate(-90)" font-size="7.6" fill="#111" stroke="#111" stroke-width="0.12">GCU</text>
<text transform="translate(545.83 96.4) rotate(-90)" font-size="7.6" fill="#111" stroke="#111" stroke-width="0.12">AGC</text>
<path transform="translate(543.23 75.8)" d="M0.00,-2.40 L0.65,-0.89 L2.28,-0.74 L1.05,0.34 L1.41,1.94 L0.00,1.10 L-1.41,1.94 L-1.05,0.34 L-2.28,-0.74 L-0.65,-0.89 Z" fill="#111"/>
<text x="566.3" y="37.3" font-size="9" text-anchor="middle" fill="#111" stroke="#111" stroke-width="0.12">G</text>
<rect x="550.8" y="43.1" width="7.75" height="9.8" fill="#61a97a"/>
<rect x="558.55" y="43.1" width="7.75" height="9.8" fill="#4a9b6a"/>
<rect x="566.3" y="43.1" width="7.75" height="9.8" fill="#f5f5f5"/>
<rect x="574.05" y="43.1" width="7.75" height="9.8" fill="#f5f5f5"/>
<path d="M551.2,43.5 H581.4 V52.5 H551.2 Z M558.55,43.5 V52.5 M566.3,43.5 V52.5 M574.05,43.5 V52.5" fill="none" stroke="#4a4a4a" stroke-opacity="0.6" stroke-width="0.8"/>
<rect x="550.8" y="98.8" width="7.75" height="9.8" fill="#f5f5f5"/>
<rect x="558.55" y="98.8" width="7.75" height="9.8" fill="#f5f5f5"/>
<rect x="566.3" y="98.8" width="7.75" height="9.8" fill="#f5f5f5"/>
<rect x="574.05" y="98.8" width="7.75" height="9.8" fill="#f5f5f5"/>
<path d="M551.2,99.2 H581.4 V108.2 H551.2 Z M558.55,99.2 V108.2 M566.3,99.2 V108.2 M574.05,99.2 V108.2" fill="none" stroke="#4a4a4a" stroke-opacity="0.6" stroke-width="0.8"/>
<rect x="550.8" y="114" width="7.75" height="6.8" fill="#e5d8e7"/>
<rect x="558.55" y="114" width="7.75" height="6.8" fill="#aa85b7"/>
<rect x="566.3" y="114" width="7.75" height="6.8" fill="#7d3b8c"/>
<rect x="574.05" y="114" width="7.75" height="6.8" fill="#bc9dc6"/>
<path d="M551.2,114.4 H581.4 V120.4 H551.2 Z M558.55,114.4 V120.4 M566.3,114.4 V120.4 M574.05,114.4 V120.4" fill="none" stroke="#4a4a4a" stroke-opacity="0.6" stroke-width="0.8"/>
<rect x="550.8" y="123.1" width="7.75" height="7.6" fill="#e5d8e7"/>
<rect x="558.55" y="123.1" width="7.75" height="7.6" fill="#aa85b7"/>
<rect x="566.3" y="123.1" width="7.75" height="7.6" fill="#7d3b8c"/>
<rect x="574.05" y="123.1" width="7.75" height="7.6" fill="#bc9dc6"/>
<path d="M551.2,123.5 H581.4 V130.3 H551.2 Z M558.55,123.5 V130.3 M566.3,123.5 V130.3 M574.05,123.5 V130.3" fill="none" stroke="#4a4a4a" stroke-opacity="0.6" stroke-width="0.8"/>
<text transform="translate(557.27 72.0) rotate(-90)" font-size="7.6" fill="#111" stroke="#111" stroke-width="0.12">GGA</text>
<text transform="translate(557.27 96.4) rotate(-90)" font-size="7.6" fill="#111" stroke="#111" stroke-width="0.12">UCC</text>
<text transform="translate(565.02 72.0) rotate(-90)" font-size="7.6" fill="#111" stroke="#111" stroke-width="0.12">GGC</text>
<text transform="translate(565.02 96.4) rotate(-90)" font-size="7.6" fill="#111" stroke="#111" stroke-width="0.12">GCC</text>
<text transform="translate(572.77 72.0) rotate(-90)" font-size="7.6" fill="#111" stroke="#111" stroke-width="0.12">GGG</text>
<text transform="translate(572.77 96.4) rotate(-90)" font-size="7.6" fill="#111" stroke="#111" stroke-width="0.12">CCC</text>
<text transform="translate(580.52 72.0) rotate(-90)" font-size="7.6" fill="#111" stroke="#111" stroke-width="0.12">GGU</text>
<text transform="translate(580.52 96.4) rotate(-90)" font-size="7.6" fill="#111" stroke="#111" stroke-width="0.12">GCC</text>
<path transform="translate(577.92 75.8)" d="M0.00,-2.40 L0.65,-0.89 L2.28,-0.74 L1.05,0.34 L1.41,1.94 L0.00,1.10 L-1.41,1.94 L-1.05,0.34 L-2.28,-0.74 L-0.65,-0.89 Z" fill="#111"/>
<text x="600.7" y="37.3" font-size="9" text-anchor="middle" fill="#111" stroke="#111" stroke-width="0.12">V</text>
<rect x="585.2" y="43.1" width="7.75" height="9.8" fill="#f5f5f5"/>
<rect x="592.95" y="43.1" width="7.75" height="9.8" fill="#8abf98"/>
<rect x="600.7" y="43.1" width="7.75" height="9.8" fill="#4a9b6a"/>
<rect x="608.45" y="43.1" width="7.75" height="9.8" fill="#f5f5f5"/>
<path d="M585.6,43.5 H615.8 V52.5 H585.6 Z M592.95,43.5 V52.5 M600.7,43.5 V52.5 M608.45,43.5 V52.5" fill="none" stroke="#4a4a4a" stroke-opacity="0.6" stroke-width="0.8"/>
<rect x="585.2" y="98.8" width="7.75" height="9.8" fill="#f5f5f5"/>
<rect x="592.95" y="98.8" width="7.75" height="9.8" fill="#f5f5f5"/>
<rect x="600.7" y="98.8" width="7.75" height="9.8" fill="#f5f5f5"/>
<rect x="608.45" y="98.8" width="7.75" height="9.8" fill="#f5f5f5"/>
<path d="M585.6,99.2 H615.8 V108.2 H585.6 Z M592.95,99.2 V108.2 M600.7,99.2 V108.2 M608.45,99.2 V108.2" fill="none" stroke="#4a4a4a" stroke-opacity="0.6" stroke-width="0.8"/>
<rect x="585.2" y="114" width="7.75" height="6.8" fill="#895298"/>
<rect x="592.95" y="114" width="7.75" height="6.8" fill="#986ba7"/>
<rect x="600.7" y="114" width="7.75" height="6.8" fill="#895298"/>
<rect x="608.45" y="114" width="7.75" height="6.8" fill="#986ba7"/>
<path d="M585.6,114.4 H615.8 V120.4 H585.6 Z M592.95,114.4 V120.4 M600.7,114.4 V120.4 M608.45,114.4 V120.4" fill="none" stroke="#4a4a4a" stroke-opacity="0.6" stroke-width="0.8"/>
<rect x="585.2" y="123.1" width="7.75" height="7.6" fill="#895298"/>
<rect x="592.95" y="123.1" width="7.75" height="7.6" fill="#986ba7"/>
<rect x="600.7" y="123.1" width="7.75" height="7.6" fill="#895298"/>
<rect x="608.45" y="123.1" width="7.75" height="7.6" fill="#986ba7"/>
<path d="M585.6,123.5 H615.8 V130.3 H585.6 Z M592.95,123.5 V130.3 M600.7,123.5 V130.3 M608.45,123.5 V130.3" fill="none" stroke="#4a4a4a" stroke-opacity="0.6" stroke-width="0.8"/>
<text transform="translate(591.68 72.0) rotate(-90)" font-size="7.6" fill="#111" stroke="#111" stroke-width="0.12">GUA</text>
<text transform="translate(591.68 96.4) rotate(-90)" font-size="7.6" fill="#111" stroke="#111" stroke-width="0.12">UAC</text>
<text transform="translate(599.43 72.0) rotate(-90)" font-size="7.6" fill="#111" stroke="#111" stroke-width="0.12">GUC</text>
<text transform="translate(599.43 96.4) rotate(-90)" font-size="7.6" fill="#111" stroke="#111" stroke-width="0.12">AAC</text>
<text transform="translate(607.18 72.0) rotate(-90)" font-size="7.6" fill="#111" stroke="#111" stroke-width="0.12">GUG</text>
<text transform="translate(607.18 96.4) rotate(-90)" font-size="7.6" fill="#111" stroke="#111" stroke-width="0.12">CAC</text>
<text transform="translate(614.93 72.0) rotate(-90)" font-size="7.6" fill="#111" stroke="#111" stroke-width="0.12">GUU</text>
<text transform="translate(614.93 96.4) rotate(-90)" font-size="7.6" fill="#111" stroke="#111" stroke-width="0.12">AAC</text>
<path transform="translate(612.33 75.8)" d="M0.00,-2.40 L0.65,-0.89 L2.28,-0.74 L1.05,0.34 L1.41,1.94 L0.00,1.10 L-1.41,1.94 L-1.05,0.34 L-2.28,-0.74 L-0.65,-0.89 Z" fill="#111"/>
<text x="626.95" y="37.3" font-size="9" text-anchor="middle" fill="#111" stroke="#111" stroke-width="0.12">Y</text>
<rect x="619.2" y="43.1" width="7.75" height="9.8" fill="#4a9b6a"/>
<rect x="626.95" y="43.1" width="7.75" height="9.8" fill="#f5f5f5"/>
<path d="M619.6,43.5 H634.3 V52.5 H619.6 Z M626.95,43.5 V52.5" fill="none" stroke="#4a4a4a" stroke-opacity="0.6" stroke-width="0.8"/>
<rect x="619.2" y="98.8" width="7.75" height="9.8" fill="#f5f5f5"/>
<rect x="626.95" y="98.8" width="7.75" height="9.8" fill="#f5f5f5"/>
<path d="M619.6,99.2 H634.3 V108.2 H619.6 Z M626.95,99.2 V108.2" fill="none" stroke="#4a4a4a" stroke-opacity="0.6" stroke-width="0.8"/>
<rect x="619.2" y="114" width="7.75" height="6.8" fill="#61a97a"/>
<rect x="626.95" y="114" width="7.75" height="6.8" fill="#61a97a"/>
<path d="M619.6,114.4 H634.3 V120.4 H619.6 Z M626.95,114.4 V120.4" fill="none" stroke="#4a4a4a" stroke-opacity="0.6" stroke-width="0.8"/>
<rect x="619.2" y="123.1" width="7.75" height="7.6" fill="#bfdcc6"/>
<rect x="626.95" y="123.1" width="7.75" height="7.6" fill="#bfdcc6"/>
<path d="M619.6,123.5 H634.3 V130.3 H619.6 Z M626.95,123.5 V130.3" fill="none" stroke="#4a4a4a" stroke-opacity="0.6" stroke-width="0.8"/>
<text transform="translate(625.68 72.0) rotate(-90)" font-size="7.6" fill="#111" stroke="#111" stroke-width="0.12">UAC</text>
<text transform="translate(625.68 96.4) rotate(-90)" font-size="7.6" fill="#111" stroke="#111" stroke-width="0.12">GUA</text>
<text transform="translate(633.43 72.0) rotate(-90)" font-size="7.6" fill="#111" stroke="#111" stroke-width="0.12">UAU</text>
<text transform="translate(633.43 96.4) rotate(-90)" font-size="7.6" fill="#111" stroke="#111" stroke-width="0.12">GUA</text>
<path transform="translate(630.83 75.8)" d="M0.00,-2.40 L0.65,-0.89 L2.28,-0.74 L1.05,0.34 L1.41,1.94 L0.00,1.10 L-1.41,1.94 L-1.05,0.34 L-2.28,-0.74 L-0.65,-0.89 Z" fill="#111"/>
<text x="645.85" y="37.3" font-size="9" text-anchor="middle" fill="#111" stroke="#111" stroke-width="0.12">C</text>
<rect x="638.1" y="43.1" width="7.75" height="9.8" fill="#f5f5f5"/>
<rect x="645.85" y="43.1" width="7.75" height="9.8" fill="#f5f5f5"/>
<path d="M638.5,43.5 H653.2 V52.5 H638.5 Z M645.85,43.5 V52.5" fill="none" stroke="#4a4a4a" stroke-opacity="0.6" stroke-width="0.8"/>
<rect x="638.1" y="98.8" width="7.75" height="9.8" fill="#f5f5f5"/>
<rect x="645.85" y="98.8" width="7.75" height="9.8" fill="#f5f5f5"/>
<path d="M638.5,99.2 H653.2 V108.2 H638.5 Z M645.85,99.2 V108.2" fill="none" stroke="#4a4a4a" stroke-opacity="0.6" stroke-width="0.8"/>
<rect x="638.1" y="114" width="7.75" height="6.8" fill="#d3bdd9"/>
<rect x="645.85" y="114" width="7.75" height="6.8" fill="#d3bdd9"/>
<path d="M638.5,114.4 H653.2 V120.4 H638.5 Z M645.85,114.4 V120.4" fill="none" stroke="#4a4a4a" stroke-opacity="0.6" stroke-width="0.8"/>
<rect x="638.1" y="123.1" width="7.75" height="7.6" fill="#d3bdd9"/>
<rect x="645.85" y="123.1" width="7.75" height="7.6" fill="#d3bdd9"/>
<path d="M638.5,123.5 H653.2 V130.3 H638.5 Z M645.85,123.5 V130.3" fill="none" stroke="#4a4a4a" stroke-opacity="0.6" stroke-width="0.8"/>
<text transform="translate(644.58 72.0) rotate(-90)" font-size="7.6" fill="#111" stroke="#111" stroke-width="0.12">UGC</text>
<text transform="translate(644.58 96.4) rotate(-90)" font-size="7.6" fill="#111" stroke="#111" stroke-width="0.12">GCA</text>
<text transform="translate(652.33 72.0) rotate(-90)" font-size="7.6" fill="#111" stroke="#111" stroke-width="0.12">UGU</text>
<text transform="translate(652.33 96.4) rotate(-90)" font-size="7.6" fill="#111" stroke="#111" stroke-width="0.12">GCA</text>
<path transform="translate(649.73 75.8)" d="M0.00,-2.40 L0.65,-0.89 L2.28,-0.74 L1.05,0.34 L1.41,1.94 L0.00,1.10 L-1.41,1.94 L-1.05,0.34 L-2.28,-0.74 L-0.65,-0.89 Z" fill="#111"/>
<text x="661.88" y="37.3" font-size="9" text-anchor="middle" fill="#111" stroke="#111" stroke-width="0.12">W</text>
<rect x="658" y="43.1" width="7.75" height="9.8" fill="#aa85b7"/>
<path d="M658.4,43.5 H665.35 V52.5 H658.4 Z" fill="none" stroke="#4a4a4a" stroke-opacity="0.6" stroke-width="0.8"/>
<rect x="658" y="98.8" width="7.75" height="9.8" fill="#f5f5f5"/>
<path d="M658.4,99.2 H665.35 V108.2 H658.4 Z" fill="none" stroke="#4a4a4a" stroke-opacity="0.6" stroke-width="0.8"/>
<rect x="658" y="114" width="7.75" height="6.8" fill="#bc9dc6"/>
<path d="M658.4,114.4 H665.35 V120.4 H658.4 Z" fill="none" stroke="#4a4a4a" stroke-opacity="0.6" stroke-width="0.8"/>
<rect x="658" y="123.1" width="7.75" height="7.6" fill="#aa85b7"/>
<path d="M658.4,123.5 H665.35 V130.3 H658.4 Z" fill="none" stroke="#4a4a4a" stroke-opacity="0.6" stroke-width="0.8"/>
<text transform="translate(664.48 72.0) rotate(-90)" font-size="7.6" fill="#111" stroke="#111" stroke-width="0.12">UGG</text>
<text transform="translate(664.48 96.4) rotate(-90)" font-size="7.6" fill="#111" stroke="#111" stroke-width="0.12">CCA</text>
<text x="677.85" y="37.3" font-size="9" text-anchor="middle" fill="#111" stroke="#111" stroke-width="0.12">F</text>
<rect x="670.1" y="43.1" width="7.75" height="9.8" fill="#61a97a"/>
<rect x="677.85" y="43.1" width="7.75" height="9.8" fill="#f5f5f5"/>
<path d="M670.5,43.5 H685.2 V52.5 H670.5 Z M677.85,43.5 V52.5" fill="none" stroke="#4a4a4a" stroke-opacity="0.6" stroke-width="0.8"/>
<rect x="670.1" y="98.8" width="7.75" height="9.8" fill="#f5f5f5"/>
<rect x="677.85" y="98.8" width="7.75" height="9.8" fill="#f5f5f5"/>
<path d="M670.5,99.2 H685.2 V108.2 H670.5 Z M677.85,99.2 V108.2" fill="none" stroke="#4a4a4a" stroke-opacity="0.6" stroke-width="0.8"/>
<rect x="670.1" y="114" width="7.75" height="6.8" fill="#986ba7"/>
<rect x="677.85" y="114" width="7.75" height="6.8" fill="#986ba7"/>
<path d="M670.5,114.4 H685.2 V120.4 H670.5 Z M677.85,114.4 V120.4" fill="none" stroke="#4a4a4a" stroke-opacity="0.6" stroke-width="0.8"/>
<rect x="670.1" y="123.1" width="7.75" height="7.6" fill="#986ba7"/>
<rect x="677.85" y="123.1" width="7.75" height="7.6" fill="#986ba7"/>
<path d="M670.5,123.5 H685.2 V130.3 H670.5 Z M677.85,123.5 V130.3" fill="none" stroke="#4a4a4a" stroke-opacity="0.6" stroke-width="0.8"/>
<text transform="translate(676.58 72.0) rotate(-90)" font-size="7.6" fill="#111" stroke="#111" stroke-width="0.12">UUC</text>
<text transform="translate(676.58 96.4) rotate(-90)" font-size="7.6" fill="#111" stroke="#111" stroke-width="0.12">GAA</text>
<text transform="translate(684.33 72.0) rotate(-90)" font-size="7.6" fill="#111" stroke="#111" stroke-width="0.12">UUU</text>
<text transform="translate(684.33 96.4) rotate(-90)" font-size="7.6" fill="#111" stroke="#111" stroke-width="0.12">GAA</text>
<path transform="translate(681.73 75.8)" d="M0.00,-2.40 L0.65,-0.89 L2.28,-0.74 L1.05,0.34 L1.41,1.94 L0.00,1.10 L-1.41,1.94 L-1.05,0.34 L-2.28,-0.74 L-0.65,-0.89 Z" fill="#111"/>
<text x="141.6" y="37" font-size="8.4" text-anchor="end" fill="#111" stroke="#111" stroke-width="0.12">Amino acid</text>
<text x="142" y="52" font-size="8.4" text-anchor="end" fill="#111" stroke="#111" stroke-width="0.12">CSC</text>
<text x="137" y="66.1" font-size="8.4" text-anchor="end" fill="#111" stroke="#111" stroke-width="0.12">Codon</text>
<line x1="141.4" y1="58.3" x2="141.4" y2="69.2" stroke="#333" stroke-width="0.8"/>
<path transform="translate(77.6 76.5)" d="M0.00,-1.70 L0.47,-0.65 L1.62,-0.53 L0.76,0.25 L1.00,1.38 L0.00,0.80 L-1.00,1.38 L-0.76,0.25 L-1.62,-0.53 L-0.47,-0.65 Z" fill="#111"/>
<text x="80.8" y="77.9" font-size="7.2" text-anchor="start" fill="#111" stroke="#111" stroke-width="0.12">wobble decoding</text>
<text x="133" y="90" font-size="8.4" text-anchor="end" fill="#111" stroke="#111" stroke-width="0.12">Anticodon</text>
<line x1="141.4" y1="82.4" x2="141.4" y2="93.2" stroke="#333" stroke-width="0.8"/>
<text x="141.8" y="100.6" font-size="8.4" text-anchor="end" fill="#111" stroke="#111" stroke-width="0.12">tRNA log<tspan font-size="5.4" dy="2.6">2</tspan><tspan dy="-2.6"> FC</tspan></text>
<text x="141.8" y="110.9" font-size="8.4" text-anchor="end" fill="#111" stroke="#111" stroke-width="0.12">(bud vs sphere)</text>
<text x="141.8" y="121.1" font-size="8.4" text-anchor="end" fill="#111" stroke="#111" stroke-width="0.12">tRNA props (bud)</text>
<text x="141.8" y="130.6" font-size="8.4" text-anchor="end" fill="#111" stroke="#111" stroke-width="0.12">tRNA props (sphere)</text>
<defs><linearGradient id="cb1" x1="0" x2="1" y1="0" y2="0">
<stop offset="0" stop-color="#6a1a7a"/>
<stop offset="0.21" stop-color="#7e3690"/>
<stop offset="0.3" stop-color="#955fa7"/>
<stop offset="0.38" stop-color="#b993c6"/>
<stop offset="0.45" stop-color="#e2d0e7"/>
<stop offset="0.5" stop-color="#ffffff"/>
<stop offset="0.55" stop-color="#d4e9da"/>
<stop offset="0.62" stop-color="#92c4a0"/>
<stop offset="0.7" stop-color="#56a275"/>
<stop offset="0.79" stop-color="#2a874d"/>
<stop offset="1" stop-color="#0f8a3e"/>
</linearGradient></defs>
<rect x="14" y="42.2" width="40.6" height="8.6" fill="url(#cb1)"/>
<line x1="15.3" y1="48.4" x2="15.3" y2="50.8" stroke="#fff" stroke-width="0.8"/>
<line x1="24.6" y1="48.4" x2="24.6" y2="50.8" stroke="#fff" stroke-width="0.8"/>
<line x1="33.9" y1="48.4" x2="33.9" y2="50.8" stroke="#fff" stroke-width="0.8"/>
<line x1="43.2" y1="48.4" x2="43.2" y2="50.8" stroke="#fff" stroke-width="0.8"/>
<line x1="52.5" y1="48.4" x2="52.5" y2="50.8" stroke="#fff" stroke-width="0.8"/>
<text transform="translate(12.9 53.3) rotate(90)" font-size="7.2" fill="#111" stroke="#111" stroke-width="0.12">−0.2</text>
<text transform="translate(22.2 53.3) rotate(90)" font-size="7.2" fill="#111" stroke="#111" stroke-width="0.12">−0.1</text>
<text transform="translate(31.5 53.3) rotate(90)" font-size="7.2" fill="#111" stroke="#111" stroke-width="0.12">0</text>
<text transform="translate(40.8 53.3) rotate(90)" font-size="7.2" fill="#111" stroke="#111" stroke-width="0.12">0.1</text>
<text transform="translate(50.1 53.3) rotate(90)" font-size="7.2" fill="#111" stroke="#111" stroke-width="0.12">0.2</text>
<defs><linearGradient id="cb2" x1="0" x2="1" y1="0" y2="0">
<stop offset="0" stop-color="#6a1a7a"/>
<stop offset="0.09" stop-color="#84449a"/>
<stop offset="0.2" stop-color="#9a6aab"/>
<stop offset="0.33" stop-color="#b898c6"/>
<stop offset="0.44" stop-color="#e6dcea"/>
<stop offset="0.5" stop-color="#ffffff"/>
<stop offset="0.57" stop-color="#d8e8dc"/>
<stop offset="0.72" stop-color="#9cc8a8"/>
<stop offset="0.86" stop-color="#5aa376"/>
<stop offset="1" stop-color="#0f8a3e"/>
</linearGradient></defs>
<rect x="13.9" y="88" width="40.8" height="8.7" fill="url(#cb2)"/>
<line x1="15.2" y1="94.3" x2="15.2" y2="96.7" stroke="#fff" stroke-width="0.8"/>
<line x1="24.5" y1="94.3" x2="24.5" y2="96.7" stroke="#fff" stroke-width="0.8"/>
<line x1="33.8" y1="94.3" x2="33.8" y2="96.7" stroke="#fff" stroke-width="0.8"/>
<line x1="43.1" y1="94.3" x2="43.1" y2="96.7" stroke="#fff" stroke-width="0.8"/>
<line x1="52.4" y1="94.3" x2="52.4" y2="96.7" stroke="#fff" stroke-width="0.8"/>
<text transform="translate(12.8 99.6) rotate(90)" font-size="7.2" fill="#111" stroke="#111" stroke-width="0.12">−1</text>
<text transform="translate(22.1 99.6) rotate(90)" font-size="7.2" fill="#111" stroke="#111" stroke-width="0.12">−0.5</text>
<text transform="translate(31.4 99.6) rotate(90)" font-size="7.2" fill="#111" stroke="#111" stroke-width="0.12">0</text>
<text transform="translate(40.7 99.6) rotate(90)" font-size="7.2" fill="#111" stroke="#111" stroke-width="0.12">0.5</text>
<text transform="translate(50 99.6) rotate(90)" font-size="7.2" fill="#111" stroke="#111" stroke-width="0.12">1</text>
<defs><linearGradient id="cb3" x1="0" x2="1" y1="0" y2="0">
<stop offset="0" stop-color="#6a1a7a"/>
<stop offset="0.09" stop-color="#84449a"/>
<stop offset="0.2" stop-color="#9a6aab"/>
<stop offset="0.33" stop-color="#b898c6"/>
<stop offset="0.44" stop-color="#e6dcea"/>
<stop offset="0.5" stop-color="#ffffff"/>
<stop offset="0.57" stop-color="#d8e8dc"/>
<stop offset="0.72" stop-color="#9cc8a8"/>
<stop offset="0.86" stop-color="#5aa376"/>
<stop offset="1" stop-color="#0f8a3e"/>
</linearGradient></defs>
<rect x="11.6" y="121.8" width="40.8" height="8.1" fill="url(#cb3)"/>
<line x1="12.9" y1="127.5" x2="12.9" y2="129.9" stroke="#fff" stroke-width="0.8"/>
<line x1="12.9" y1="121.8" x2="12.9" y2="123.4" stroke="#fff" stroke-width="0.8"/>
<line x1="22.3" y1="127.5" x2="22.3" y2="129.9" stroke="#fff" stroke-width="0.8"/>
<line x1="22.3" y1="121.8" x2="22.3" y2="123.4" stroke="#fff" stroke-width="0.8"/>
<line x1="31.7" y1="127.5" x2="31.7" y2="129.9" stroke="#fff" stroke-width="0.8"/>
<line x1="31.7" y1="121.8" x2="31.7" y2="123.4" stroke="#fff" stroke-width="0.8"/>
<line x1="41.1" y1="127.5" x2="41.1" y2="129.9" stroke="#fff" stroke-width="0.8"/>
<line x1="41.1" y1="121.8" x2="41.1" y2="123.4" stroke="#fff" stroke-width="0.8"/>
<line x1="50.5" y1="127.5" x2="50.5" y2="129.9" stroke="#fff" stroke-width="0.8"/>
<line x1="50.5" y1="121.8" x2="50.5" y2="123.4" stroke="#fff" stroke-width="0.8"/>
<text transform="translate(10.5 132) rotate(90)" font-size="7.2" fill="#111" stroke="#111" stroke-width="0.12">0</text>
<text transform="translate(19.9 132) rotate(90)" font-size="7.2" fill="#111" stroke="#111" stroke-width="0.12">0.02</text>
<text transform="translate(29.3 132) rotate(90)" font-size="7.2" fill="#111" stroke="#111" stroke-width="0.12">0.04</text>
<text transform="translate(38.7 132) rotate(90)" font-size="7.2" fill="#111" stroke="#111" stroke-width="0.12">0.06</text>
<text transform="translate(48.1 132) rotate(90)" font-size="7.2" fill="#111" stroke="#111" stroke-width="0.12">0.08</text>
<text x="1" y="182" font-size="16" text-anchor="start" fill="#000" font-weight="bold" stroke="#000" stroke-width="0.12">B</text>
<text x="94.2" y="186.6" font-size="9.6" text-anchor="middle" fill="#222" stroke="#222" stroke-width="0.12">Sphere (4 hpf)</text>
<text x="223" y="186.6" font-size="9.6" text-anchor="middle" fill="#222" stroke="#222" stroke-width="0.12">Bud (10 hpf)</text>
<line x1="41.5" y1="222.05" x2="41.5" y2="313.45" stroke="#3a3a3a" stroke-width="0.95"/>
<line x1="38" y1="222.5" x2="41.5" y2="222.5" stroke="#3a3a3a" stroke-width="0.95"/>
<text x="34.6" y="224.1" font-size="8.3" text-anchor="end" fill="#333" stroke="#333" stroke-width="0.12">1.4</text>
<line x1="38" y1="252.7" x2="41.5" y2="252.7" stroke="#3a3a3a" stroke-width="0.95"/>
<text x="34.6" y="254.3" font-size="8.3" text-anchor="end" fill="#333" stroke="#333" stroke-width="0.12">1.2</text>
<line x1="38" y1="283.5" x2="41.5" y2="283.5" stroke="#3a3a3a" stroke-width="0.95"/>
<text x="34.6" y="285.1" font-size="8.3" text-anchor="end" fill="#333" stroke="#333" stroke-width="0.12">1.0</text>
<line x1="38" y1="313" x2="41.5" y2="313" stroke="#3a3a3a" stroke-width="0.95"/>
<text x="34.6" y="314.6" font-size="8.3" text-anchor="end" fill="#333" stroke="#333" stroke-width="0.12">0.8</text>
<text transform="translate(19.9 268.55) rotate(-90)" font-size="9.9" text-anchor="middle" fill="#222" stroke="#222" stroke-width="0.12">Codon dwell time</text>
<path d="M54.3,202.3 V200.2 H94.3 V202.3" fill="none" stroke="#b0b0b0" stroke-width="0.7"/>
<text x="74.3" y="199.2" font-size="7.1" text-anchor="middle" fill="#a8a8a8" stroke="#a8a8a8" stroke-width="0.12">p=0.87</text>
<path d="M94.3,210.6 V208.5 H133.6 V210.6" fill="none" stroke="#3c3c3c" stroke-width="0.7"/>
<text x="113.95" y="207.5" font-size="7.1" text-anchor="middle" fill="#222" stroke="#222" stroke-width="0.12">p=0.021</text>
<path d="M54.3,221.8 V219.7 H133.6 V221.8" fill="none" stroke="#3c3c3c" stroke-width="0.7"/>
<text x="93.95" y="218.7" font-size="7.1" text-anchor="middle" fill="#222" stroke="#222" stroke-width="0.12">p=0.028</text>
<path d="M183.3,202.7 V200.6 H223.3 V202.7" fill="none" stroke="#b0b0b0" stroke-width="0.7"/>
<text x="203.3" y="199.6" font-size="7.1" text-anchor="middle" fill="#a8a8a8" stroke="#a8a8a8" stroke-width="0.12">p=0.81</text>
<path d="M223.3,210.9 V208.8 H262.6 V210.9" fill="none" stroke="#3c3c3c" stroke-width="0.7"/>
<text x="242.95" y="207.8" font-size="7.1" text-anchor="middle" fill="#222" stroke="#222" stroke-width="0.12">p=0.0098</text>
<path d="M183.3,221.7 V219.6 H262.6 V221.7" fill="none" stroke="#3c3c3c" stroke-width="0.7"/>
<text x="222.95" y="218.6" font-size="7.1" text-anchor="middle" fill="#222" stroke="#222" stroke-width="0.12">p=0.028</text>
<circle cx="55.19" cy="243.5" r="2.25" fill="#2c8e5e" fill-opacity="0.92"/>
<circle cx="55.55" cy="259.2" r="2.25" fill="#2c8e5e" fill-opacity="0.92"/>
<circle cx="55.44" cy="279.5" r="2.25" fill="#2c8e5e" fill-opacity="0.92"/>
<circle cx="53.24" cy="280.3" r="2.25" fill="#2c8e5e" fill-opacity="0.92"/>
<circle cx="55.03" cy="281.2" r="2.25" fill="#2c8e5e" fill-opacity="0.92"/>
<circle cx="54.54" cy="282" r="2.25" fill="#2c8e5e" fill-opacity="0.92"/>
<circle cx="55.11" cy="283" r="2.25" fill="#2c8e5e" fill-opacity="0.92"/>
<circle cx="55.4" cy="284" r="2.25" fill="#2c8e5e" fill-opacity="0.92"/>
<circle cx="53.22" cy="285" r="2.25" fill="#2c8e5e" fill-opacity="0.92"/>
<circle cx="53.18" cy="288" r="2.25" fill="#2c8e5e" fill-opacity="0.92"/>
<circle cx="55.45" cy="291.3" r="2.25" fill="#2c8e5e" fill-opacity="0.92"/>
<circle cx="54.59" cy="292.3" r="2.25" fill="#2c8e5e" fill-opacity="0.92"/>
<circle cx="55.45" cy="293.5" r="2.25" fill="#2c8e5e" fill-opacity="0.92"/>
<circle cx="55.26" cy="298.2" r="2.25" fill="#2c8e5e" fill-opacity="0.92"/>
<circle cx="54.89" cy="303.9" r="2.25" fill="#2c8e5e" fill-opacity="0.92"/>
<path d="M62.4,244 L64.9,244 C64.83,245.33 64.5,249.67 64.5,252 C64.5,254.33 64.72,256.33 64.9,258 C65.08,259.67 64.97,260.5 65.6,262 C66.23,263.5 67.38,265.33 68.7,267 C70.02,268.67 72.15,270.38 73.5,272 C74.85,273.62 75.85,275.12 76.8,276.7 C77.75,278.28 78.65,280 79.2,281.5 C79.75,283 80.33,284.17 80.1,285.7 C79.87,287.23 78.82,289.07 77.8,290.7 C76.78,292.33 75.12,293.9 74,295.5 C72.88,297.1 71.9,298.95 71.1,300.3 C70.3,301.65 69.52,303.05 69.2,303.6 L62.4,303.6 Z" fill="#288e5d"/>
<line x1="62.4" y1="280.5" x2="62.4" y2="303.6" stroke="#222" stroke-width="0.65"/>
<rect x="60" y="280.5" width="4.7" height="11.9" fill="#cfe7d8" stroke="#222" stroke-width="0.7"/>
<line x1="60" y1="283.1" x2="64.7" y2="283.1" stroke="#000" stroke-width="1.9"/>
<circle cx="93.73" cy="230" r="2.25" fill="#5b5e62" fill-opacity="0.92"/>
<circle cx="94.19" cy="240.4" r="2.25" fill="#5b5e62" fill-opacity="0.92"/>
<circle cx="94.72" cy="265" r="2.25" fill="#5b5e62" fill-opacity="0.92"/>
<circle cx="94.57" cy="267.5" r="2.25" fill="#5b5e62" fill-opacity="0.92"/>
<circle cx="94.7" cy="270" r="2.25" fill="#5b5e62" fill-opacity="0.92"/>
<circle cx="94.42" cy="278" r="2.25" fill="#5b5e62" fill-opacity="0.92"/>
<circle cx="95.12" cy="279.5" r="2.25" fill="#5b5e62" fill-opacity="0.92"/>
<circle cx="95.15" cy="280.5" r="2.25" fill="#5b5e62" fill-opacity="0.92"/>
<circle cx="94.88" cy="281" r="2.25" fill="#5b5e62" fill-opacity="0.92"/>
<circle cx="94.99" cy="282" r="2.25" fill="#5b5e62" fill-opacity="0.92"/>
<circle cx="94.74" cy="283.5" r="2.25" fill="#5b5e62" fill-opacity="0.92"/>
<circle cx="93.65" cy="284.5" r="2.25" fill="#5b5e62" fill-opacity="0.92"/>
<circle cx="93.39" cy="285.5" r="2.25" fill="#5b5e62" fill-opacity="0.92"/>
<circle cx="94.36" cy="286" r="2.25" fill="#5b5e62" fill-opacity="0.92"/>
<circle cx="94.05" cy="287" r="2.25" fill="#5b5e62" fill-opacity="0.92"/>
<circle cx="93.06" cy="288" r="2.25" fill="#5b5e62" fill-opacity="0.92"/>
<circle cx="93.04" cy="289" r="2.25" fill="#5b5e62" fill-opacity="0.92"/>
<circle cx="93.36" cy="290.5" r="2.25" fill="#5b5e62" fill-opacity="0.92"/>
<circle cx="95.27" cy="291" r="2.25" fill="#5b5e62" fill-opacity="0.92"/>
<circle cx="94.89" cy="292" r="2.25" fill="#5b5e62" fill-opacity="0.92"/>
<circle cx="94.36" cy="293.5" r="2.25" fill="#5b5e62" fill-opacity="0.92"/>
<circle cx="94.27" cy="295" r="2.25" fill="#5b5e62" fill-opacity="0.92"/>
<circle cx="93.4" cy="296.5" r="2.25" fill="#5b5e62" fill-opacity="0.92"/>
<circle cx="95.37" cy="298" r="2.25" fill="#5b5e62" fill-opacity="0.92"/>
<circle cx="93.16" cy="299.5" r="2.25" fill="#5b5e62" fill-opacity="0.92"/>
<circle cx="94.99" cy="302.5" r="2.25" fill="#5b5e62" fill-opacity="0.92"/>
<circle cx="94.38" cy="305" r="2.25" fill="#5b5e62" fill-opacity="0.92"/>
<path d="M102.1,230 L104.1,230 C104.12,232.5 104.15,241.23 104.2,245 C104.25,248.77 104.12,250.23 104.4,252.6 C104.68,254.97 104.98,256.98 105.9,259.2 C106.82,261.42 108.92,263.88 109.9,265.9 C110.88,267.92 110.57,269.2 111.8,271.3 C113.03,273.4 115.97,276.32 117.3,278.5 C118.63,280.68 119.77,282.45 119.8,284.4 C119.83,286.35 118.65,288.02 117.5,290.2 C116.35,292.38 114.22,294.97 112.9,297.5 C111.58,300.03 110.15,304.08 109.6,305.4 L102.1,305.4 Z" fill="#d8dbdc"/>
<line x1="102.1" y1="265.2" x2="102.1" y2="305.4" stroke="#222" stroke-width="0.65"/>
<rect x="100.1" y="276.6" width="4.5" height="15" fill="#f4f4f4" stroke="#222" stroke-width="0.7"/>
<line x1="100.1" y1="285" x2="104.6" y2="285" stroke="#000" stroke-width="1.9"/>
<circle cx="134.75" cy="228.4" r="2.25" fill="#8c60a8" fill-opacity="0.92"/>
<circle cx="134.31" cy="231.8" r="2.25" fill="#8c60a8" fill-opacity="0.92"/>
<circle cx="133.2" cy="235.6" r="2.25" fill="#8c60a8" fill-opacity="0.92"/>
<circle cx="134.24" cy="247.8" r="2.25" fill="#8c60a8" fill-opacity="0.92"/>
<circle cx="133.73" cy="257.2" r="2.25" fill="#8c60a8" fill-opacity="0.92"/>
<circle cx="133.85" cy="259.4" r="2.25" fill="#8c60a8" fill-opacity="0.92"/>
<circle cx="133.21" cy="262.3" r="2.25" fill="#8c60a8" fill-opacity="0.92"/>
<circle cx="134.83" cy="265.8" r="2.25" fill="#8c60a8" fill-opacity="0.92"/>
<circle cx="134.94" cy="275.9" r="2.25" fill="#8c60a8" fill-opacity="0.92"/>
<circle cx="135.02" cy="278.5" r="2.25" fill="#8c60a8" fill-opacity="0.92"/>
<circle cx="133.83" cy="281" r="2.25" fill="#8c60a8" fill-opacity="0.92"/>
<circle cx="134.62" cy="283" r="2.25" fill="#8c60a8" fill-opacity="0.92"/>
<circle cx="132.53" cy="284.8" r="2.25" fill="#8c60a8" fill-opacity="0.92"/>
<circle cx="134.31" cy="286.5" r="2.25" fill="#8c60a8" fill-opacity="0.92"/>
<circle cx="132.82" cy="288.3" r="2.25" fill="#8c60a8" fill-opacity="0.92"/>
<circle cx="134.97" cy="298.7" r="2.25" fill="#8c60a8" fill-opacity="0.92"/>
<path d="M141.4,228.8 L149.8,228.8 C150.52,231.17 152.8,238.53 154.1,243 C155.4,247.47 156.75,252.43 157.6,255.6 C158.45,258.77 158.82,259.67 159.2,262 C159.58,264.33 159.9,266.85 159.9,269.6 C159.9,272.35 159.68,275.55 159.2,278.5 C158.72,281.45 157.78,284.57 157,287.3 C156.22,290.03 155.13,292.95 154.5,294.9 C153.87,296.85 153.42,298.32 153.2,299 L141.4,299 Z" fill="#8d64a5"/>
<line x1="141.4" y1="228.8" x2="141.4" y2="299" stroke="#222" stroke-width="0.65"/>
<rect x="139.3" y="258.2" width="4.2" height="28.1" fill="#e4dbea" stroke="#222" stroke-width="0.7"/>
<line x1="139.3" y1="271.2" x2="143.5" y2="271.2" stroke="#000" stroke-width="1.9"/>
<circle cx="183.19" cy="238" r="2.25" fill="#2c8e5e" fill-opacity="0.92"/>
<circle cx="184.35" cy="246.6" r="2.25" fill="#2c8e5e" fill-opacity="0.92"/>
<circle cx="183.8" cy="272.6" r="2.25" fill="#2c8e5e" fill-opacity="0.92"/>
<circle cx="183.75" cy="276.6" r="2.25" fill="#2c8e5e" fill-opacity="0.92"/>
<circle cx="182.26" cy="279.3" r="2.25" fill="#2c8e5e" fill-opacity="0.92"/>
<circle cx="182.87" cy="282.6" r="2.25" fill="#2c8e5e" fill-opacity="0.92"/>
<circle cx="182.58" cy="284.6" r="2.25" fill="#2c8e5e" fill-opacity="0.92"/>
<circle cx="183.99" cy="288" r="2.25" fill="#2c8e5e" fill-opacity="0.92"/>
<circle cx="182.31" cy="291.2" r="2.25" fill="#2c8e5e" fill-opacity="0.92"/>
<circle cx="184.32" cy="293.9" r="2.25" fill="#2c8e5e" fill-opacity="0.92"/>
<circle cx="183.95" cy="296.6" r="2.25" fill="#2c8e5e" fill-opacity="0.92"/>
<circle cx="183.41" cy="299.2" r="2.25" fill="#2c8e5e" fill-opacity="0.92"/>
<circle cx="184.04" cy="301.9" r="2.25" fill="#2c8e5e" fill-opacity="0.92"/>
<circle cx="183.21" cy="305.9" r="2.25" fill="#2c8e5e" fill-opacity="0.92"/>
<path d="M191.3,238 L194.6,238 C194.6,239.17 194.48,242.57 194.6,245 C194.72,247.43 194.85,250 195.3,252.6 C195.75,255.2 196.65,258.37 197.3,260.6 C197.95,262.83 198.32,264 199.2,266 C200.08,268 201.37,270.38 202.6,272.6 C203.83,274.82 205.57,276.85 206.6,279.3 C207.63,281.75 208.8,284.87 208.8,287.3 C208.8,289.73 207.42,291.92 206.6,293.9 C205.78,295.88 204.9,297.32 203.9,299.2 C202.9,301.08 201.15,304.2 200.6,305.2 L191.3,305.2 Z" fill="#288e5d"/>
<line x1="191.3" y1="274.2" x2="191.3" y2="305.2" stroke="#222" stroke-width="0.65"/>
<rect x="189.3" y="278" width="4.4" height="18.8" fill="#cfe7d8" stroke="#222" stroke-width="0.7"/>
<line x1="189.3" y1="288.6" x2="193.7" y2="288.6" stroke="#000" stroke-width="1.9"/>
<circle cx="222.24" cy="233.3" r="2.25" fill="#5b5e62" fill-opacity="0.92"/>
<circle cx="222.27" cy="248.9" r="2.25" fill="#5b5e62" fill-opacity="0.92"/>
<circle cx="223.47" cy="262.6" r="2.25" fill="#5b5e62" fill-opacity="0.92"/>
<circle cx="222.43" cy="264" r="2.25" fill="#5b5e62" fill-opacity="0.92"/>
<circle cx="223.62" cy="274" r="2.25" fill="#5b5e62" fill-opacity="0.92"/>
<circle cx="222.83" cy="276" r="2.25" fill="#5b5e62" fill-opacity="0.92"/>
<circle cx="221.83" cy="278" r="2.25" fill="#5b5e62" fill-opacity="0.92"/>
<circle cx="222.76" cy="280" r="2.25" fill="#5b5e62" fill-opacity="0.92"/>
<circle cx="223.99" cy="282" r="2.25" fill="#5b5e62" fill-opacity="0.92"/>
<circle cx="223.24" cy="284" r="2.25" fill="#5b5e62" fill-opacity="0.92"/>
<circle cx="223.32" cy="286" r="2.25" fill="#5b5e62" fill-opacity="0.92"/>
<circle cx="222.01" cy="287.5" r="2.25" fill="#5b5e62" fill-opacity="0.92"/>
<circle cx="223.7" cy="289" r="2.25" fill="#5b5e62" fill-opacity="0.92"/>
<circle cx="222.84" cy="291" r="2.25" fill="#5b5e62" fill-opacity="0.92"/>
<circle cx="224" cy="293" r="2.25" fill="#5b5e62" fill-opacity="0.92"/>
<circle cx="222.11" cy="295" r="2.25" fill="#5b5e62" fill-opacity="0.92"/>
<circle cx="223.08" cy="297" r="2.25" fill="#5b5e62" fill-opacity="0.92"/>
<circle cx="221.85" cy="299" r="2.25" fill="#5b5e62" fill-opacity="0.92"/>
<circle cx="222.76" cy="301" r="2.25" fill="#5b5e62" fill-opacity="0.92"/>
<circle cx="222.15" cy="303" r="2.25" fill="#5b5e62" fill-opacity="0.92"/>
<circle cx="221.8" cy="305" r="2.25" fill="#5b5e62" fill-opacity="0.92"/>
<circle cx="223.05" cy="307" r="2.25" fill="#5b5e62" fill-opacity="0.92"/>
<circle cx="223.06" cy="309.3" r="2.25" fill="#5b5e62" fill-opacity="0.92"/>
<path d="M231,233.3 L232.3,233.3 C232.47,235.4 232.88,242.78 233.3,245.9 C233.72,249.02 234.13,249.78 234.8,252 C235.47,254.22 236.28,256.87 237.3,259.2 C238.32,261.53 239.57,263.65 240.9,266 C242.23,268.35 244.08,270.88 245.3,273.3 C246.52,275.72 247.6,278.08 248.2,280.5 C248.8,282.92 249.15,285.37 248.9,287.8 C248.65,290.23 247.67,292.67 246.7,295.1 C245.73,297.53 244.43,300.1 243.1,302.4 C241.77,304.7 239.43,307.82 238.7,308.9 L231,308.9 Z" fill="#d8dbdc"/>
<line x1="231" y1="248.9" x2="231" y2="308.9" stroke="#222" stroke-width="0.65"/>
<rect x="228.8" y="276.9" width="4.5" height="19.6" fill="#f4f4f4" stroke="#222" stroke-width="0.7"/>
<line x1="228.8" y1="287.1" x2="233.3" y2="287.1" stroke="#000" stroke-width="1.9"/>
<circle cx="263.4" cy="230" r="2.25" fill="#8c60a8" fill-opacity="0.92"/>
<circle cx="262.07" cy="245.9" r="2.25" fill="#8c60a8" fill-opacity="0.92"/>
<circle cx="262.06" cy="248.6" r="2.25" fill="#8c60a8" fill-opacity="0.92"/>
<circle cx="263.63" cy="251.9" r="2.25" fill="#8c60a8" fill-opacity="0.92"/>
<circle cx="262.5" cy="257.2" r="2.25" fill="#8c60a8" fill-opacity="0.92"/>
<circle cx="261.32" cy="259.2" r="2.25" fill="#8c60a8" fill-opacity="0.92"/>
<circle cx="262.99" cy="261.9" r="2.25" fill="#8c60a8" fill-opacity="0.92"/>
<circle cx="263.3" cy="276.6" r="2.25" fill="#8c60a8" fill-opacity="0.92"/>
<circle cx="263.61" cy="281.3" r="2.25" fill="#8c60a8" fill-opacity="0.92"/>
<circle cx="261.77" cy="283.9" r="2.25" fill="#8c60a8" fill-opacity="0.92"/>
<circle cx="261.8" cy="287.3" r="2.25" fill="#8c60a8" fill-opacity="0.92"/>
<circle cx="261.5" cy="290.6" r="2.25" fill="#8c60a8" fill-opacity="0.92"/>
<circle cx="261.65" cy="298.6" r="2.25" fill="#8c60a8" fill-opacity="0.92"/>
<path d="M270.2,230.3 L278.2,230.3 C278.7,231.8 279.92,235.58 281.2,239.3 C282.48,243.02 284.63,248.48 285.9,252.6 C287.17,256.72 288.25,261 288.8,264 C289.35,267 289.2,268.38 289.2,270.6 C289.2,272.82 289.13,275.08 288.8,277.3 C288.47,279.52 287.8,281.68 287.2,283.9 C286.6,286.12 285.97,288.15 285.2,290.6 C284.43,293.05 283.03,297.27 282.6,298.6 L270.2,298.6 Z" fill="#8d64a5"/>
<line x1="270.2" y1="230.3" x2="270.2" y2="298.6" stroke="#222" stroke-width="0.65"/>
<rect x="268.4" y="253.2" width="4.2" height="32.7" fill="#e4dbea" stroke="#222" stroke-width="0.7"/>
<line x1="268.4" y1="269.3" x2="272.6" y2="269.3" stroke="#000" stroke-width="1.9"/>
<circle cx="299.5" cy="223.9" r="1.8" fill="#2c8e5e"/>
<text x="303.1" y="225.5" font-size="7.2" text-anchor="start" fill="#2e2e2e" stroke="#2e2e2e" stroke-width="0.12">Stabilizing</text>
<text x="303.1" y="232.5" font-size="7.2" text-anchor="start" fill="#2e2e2e" stroke="#2e2e2e" stroke-width="0.12">(n=16)</text>
<circle cx="299.5" cy="242.3" r="1.8" fill="#5b5e62"/>
<text x="303.1" y="243.9" font-size="7.2" text-anchor="start" fill="#2e2e2e" stroke="#2e2e2e" stroke-width="0.12">Neutral</text>
<text x="303.1" y="250.9" font-size="7.2" text-anchor="start" fill="#2e2e2e" stroke="#2e2e2e" stroke-width="0.12">(n=27)</text>
<circle cx="299.5" cy="260.7" r="1.8" fill="#8c60a8"/>
<text x="303.1" y="262.3" font-size="7.2" text-anchor="start" fill="#2e2e2e" stroke="#2e2e2e" stroke-width="0.12">Destabilizing</text>
<text x="303.1" y="269.3" font-size="7.2" text-anchor="start" fill="#2e2e2e" stroke="#2e2e2e" stroke-width="0.12">(n=18)</text>
<text x="355.3" y="184.3" font-size="16" text-anchor="start" fill="#000" font-weight="bold" stroke="#000" stroke-width="0.12">C</text>
<text x="458.8" y="186.6" font-size="9.6" text-anchor="middle" fill="#222" stroke="#222" stroke-width="0.12">Sphere (4 hpf)</text>
<text x="588" y="186.6" font-size="9.6" text-anchor="middle" fill="#222" stroke="#222" stroke-width="0.12">Bud (10 hpf)</text>
<line x1="406.5" y1="224.05" x2="406.5" y2="313.95" stroke="#3a3a3a" stroke-width="0.95"/>
<line x1="403" y1="224.5" x2="406.5" y2="224.5" stroke="#3a3a3a" stroke-width="0.95"/>
<text x="399.6" y="226.1" font-size="8.3" text-anchor="end" fill="#333" stroke="#333" stroke-width="0.12">0.075</text>
<line x1="403" y1="254.5" x2="406.5" y2="254.5" stroke="#3a3a3a" stroke-width="0.95"/>
<text x="399.6" y="256.1" font-size="8.3" text-anchor="end" fill="#333" stroke="#333" stroke-width="0.12">0.050</text>
<line x1="403" y1="284.5" x2="406.5" y2="284.5" stroke="#3a3a3a" stroke-width="0.95"/>
<text x="399.6" y="286.1" font-size="8.3" text-anchor="end" fill="#333" stroke="#333" stroke-width="0.12">0.025</text>
<line x1="403" y1="313.5" x2="406.5" y2="313.5" stroke="#3a3a3a" stroke-width="0.95"/>
<text x="399.6" y="315.1" font-size="8.3" text-anchor="end" fill="#333" stroke="#333" stroke-width="0.12">0.000</text>
<text transform="translate(373.3 269.8) rotate(-90)" font-size="9.9" text-anchor="middle" fill="#222" stroke="#222" stroke-width="0.12">tRNA proportions</text>
<path d="M419.4,210 V207.9 H459.5 V210" fill="none" stroke="#b0b0b0" stroke-width="0.7"/>
<text x="439.45" y="206.9" font-size="7.1" text-anchor="middle" fill="#a8a8a8" stroke="#a8a8a8" stroke-width="0.12">p=0.77</text>
<path d="M459.5,218.6 V216.5 H499.5 V218.6" fill="none" stroke="#3c3c3c" stroke-width="0.7"/>
<text x="479.5" y="215.5" font-size="7.1" text-anchor="middle" fill="#222" stroke="#222" stroke-width="0.12">p=0.0041</text>
<path d="M419.4,229.9 V227.8 H499.5 V229.9" fill="none" stroke="#3c3c3c" stroke-width="0.7"/>
<text x="459.45" y="226.8" font-size="7.1" text-anchor="middle" fill="#222" stroke="#222" stroke-width="0.12">p=0.0032</text>
<path d="M547.5,199.7 V197.6 H587.5 V199.7" fill="none" stroke="#b0b0b0" stroke-width="0.7"/>
<text x="567.5" y="196.6" font-size="7.1" text-anchor="middle" fill="#a8a8a8" stroke="#a8a8a8" stroke-width="0.12">p=0.41</text>
<path d="M587.5,207.8 V205.7 H627.3 V207.8" fill="none" stroke="#3c3c3c" stroke-width="0.7"/>
<text x="607.4" y="204.7" font-size="7.1" text-anchor="middle" fill="#222" stroke="#222" stroke-width="0.12">p=0.0032</text>
<path d="M547.5,219.1 V217 H627.3 V219.1" fill="none" stroke="#3c3c3c" stroke-width="0.7"/>
<text x="587.4" y="216" font-size="7.1" text-anchor="middle" fill="#222" stroke="#222" stroke-width="0.12">p=0.0011</text>
<circle cx="420.05" cy="255.3" r="2.25" fill="#2c8e5e" fill-opacity="0.92"/>
<circle cx="419.07" cy="266.5" r="2.25" fill="#2c8e5e" fill-opacity="0.92"/>
<circle cx="419.87" cy="272.2" r="2.25" fill="#2c8e5e" fill-opacity="0.92"/>
<circle cx="420.69" cy="274" r="2.25" fill="#2c8e5e" fill-opacity="0.92"/>
<circle cx="419.98" cy="276.6" r="2.25" fill="#2c8e5e" fill-opacity="0.92"/>
<circle cx="420.97" cy="284" r="2.25" fill="#2c8e5e" fill-opacity="0.92"/>
<circle cx="421.08" cy="286.8" r="2.25" fill="#2c8e5e" fill-opacity="0.92"/>
<circle cx="419.46" cy="289.7" r="2.25" fill="#2c8e5e" fill-opacity="0.92"/>
<circle cx="418.88" cy="292.5" r="2.25" fill="#2c8e5e" fill-opacity="0.92"/>
<circle cx="420.67" cy="294.8" r="2.25" fill="#2c8e5e" fill-opacity="0.92"/>
<circle cx="420.72" cy="307.4" r="2.25" fill="#2c8e5e" fill-opacity="0.92"/>
<path d="M427.3,256.1 L436.6,256.1 C437.23,257.2 439.25,260.55 440.4,262.7 C441.55,264.85 442.67,266.9 443.5,269 C444.33,271.1 444.97,273.2 445.4,275.3 C445.83,277.4 446.12,279.87 446.1,281.6 C446.08,283.33 445.82,284.07 445.3,285.7 C444.78,287.33 443.85,289.5 443,291.4 C442.15,293.3 441.05,295.2 440.2,297.1 C439.35,299 438.57,301.08 437.9,302.8 C437.23,304.52 436.48,306.63 436.2,307.4 L427.3,307.4 Z" fill="#288e5d"/>
<line x1="427.3" y1="256.1" x2="427.3" y2="307.4" stroke="#222" stroke-width="0.65"/>
<rect x="425.3" y="272.2" width="4.5" height="19.2" fill="#cfe7d8" stroke="#222" stroke-width="0.7"/>
<line x1="425.3" y1="280.1" x2="429.8" y2="280.1" stroke="#000" stroke-width="1.9"/>
<circle cx="460.19" cy="238" r="2.25" fill="#5b5e62" fill-opacity="0.92"/>
<circle cx="458.58" cy="255.9" r="2.25" fill="#5b5e62" fill-opacity="0.92"/>
<circle cx="460.3" cy="267.9" r="2.25" fill="#5b5e62" fill-opacity="0.92"/>
<circle cx="459.13" cy="270" r="2.25" fill="#5b5e62" fill-opacity="0.92"/>
<circle cx="458.8" cy="272" r="2.25" fill="#5b5e62" fill-opacity="0.92"/>
<circle cx="457.94" cy="274" r="2.25" fill="#5b5e62" fill-opacity="0.92"/>
<circle cx="459.75" cy="276" r="2.25" fill="#5b5e62" fill-opacity="0.92"/>
<circle cx="458.73" cy="278" r="2.25" fill="#5b5e62" fill-opacity="0.92"/>
<circle cx="460.07" cy="280" r="2.25" fill="#5b5e62" fill-opacity="0.92"/>
<circle cx="459.35" cy="282" r="2.25" fill="#5b5e62" fill-opacity="0.92"/>
<circle cx="458.38" cy="284" r="2.25" fill="#5b5e62" fill-opacity="0.92"/>
<circle cx="458.5" cy="286" r="2.25" fill="#5b5e62" fill-opacity="0.92"/>
<circle cx="460.33" cy="288" r="2.25" fill="#5b5e62" fill-opacity="0.92"/>
<circle cx="460.24" cy="290" r="2.25" fill="#5b5e62" fill-opacity="0.92"/>
<circle cx="459.37" cy="292" r="2.25" fill="#5b5e62" fill-opacity="0.92"/>
<circle cx="459.11" cy="294" r="2.25" fill="#5b5e62" fill-opacity="0.92"/>
<circle cx="458.04" cy="296" r="2.25" fill="#5b5e62" fill-opacity="0.92"/>
<circle cx="457.91" cy="298" r="2.25" fill="#5b5e62" fill-opacity="0.92"/>
<circle cx="459.03" cy="300" r="2.25" fill="#5b5e62" fill-opacity="0.92"/>
<circle cx="459.41" cy="302" r="2.25" fill="#5b5e62" fill-opacity="0.92"/>
<circle cx="459.38" cy="304" r="2.25" fill="#5b5e62" fill-opacity="0.92"/>
<circle cx="458.46" cy="306" r="2.25" fill="#5b5e62" fill-opacity="0.92"/>
<circle cx="458.57" cy="308" r="2.25" fill="#5b5e62" fill-opacity="0.92"/>
<circle cx="459.89" cy="310" r="2.25" fill="#5b5e62" fill-opacity="0.92"/>
<circle cx="458.37" cy="312" r="2.25" fill="#5b5e62" fill-opacity="0.92"/>
<circle cx="460.28" cy="313.6" r="2.25" fill="#5b5e62" fill-opacity="0.92"/>
<path d="M467.3,238 L469.3,238 C469.97,239.65 471.53,244.03 473.3,247.9 C475.07,251.77 478.47,257.85 479.9,261.2 C481.33,264.55 481,265.6 481.9,268 C482.8,270.4 484.67,273.07 485.3,275.6 C485.93,278.13 485.88,280.67 485.7,283.2 C485.52,285.73 484.95,288.27 484.2,290.8 C483.45,293.33 482.22,295.87 481.2,298.4 C480.18,300.93 479.25,303.77 478.1,306 C476.95,308.23 474.93,310.83 474.3,311.8 L467.3,311.8 Z" fill="#d8dbdc"/>
<line x1="467.3" y1="238" x2="467.3" y2="312" stroke="#222" stroke-width="0.65"/>
<rect x="465.2" y="269.5" width="4.6" height="24" fill="#f4f4f4" stroke="#222" stroke-width="0.7"/>
<line x1="465.2" y1="280.9" x2="469.8" y2="280.9" stroke="#000" stroke-width="1.9"/>
<circle cx="499.12" cy="267.3" r="2.25" fill="#8c60a8" fill-opacity="0.92"/>
<circle cx="499.55" cy="280.5" r="2.25" fill="#8c60a8" fill-opacity="0.92"/>
<circle cx="498.95" cy="285.4" r="2.25" fill="#8c60a8" fill-opacity="0.92"/>
<circle cx="498.3" cy="293.6" r="2.25" fill="#8c60a8" fill-opacity="0.92"/>
<circle cx="498.83" cy="296.9" r="2.25" fill="#8c60a8" fill-opacity="0.92"/>
<circle cx="498.12" cy="300.2" r="2.25" fill="#8c60a8" fill-opacity="0.92"/>
<circle cx="499.1" cy="302.2" r="2.25" fill="#8c60a8" fill-opacity="0.92"/>
<circle cx="498" cy="304.3" r="2.25" fill="#8c60a8" fill-opacity="0.92"/>
<circle cx="497.77" cy="306.4" r="2.25" fill="#8c60a8" fill-opacity="0.92"/>
<circle cx="498.73" cy="308.4" r="2.25" fill="#8c60a8" fill-opacity="0.92"/>
<circle cx="498.31" cy="310.9" r="2.25" fill="#8c60a8" fill-opacity="0.92"/>
<path d="M507.3,268.6 L511.4,268.6 C512.37,269.88 515.42,273.63 517.2,276.3 C518.98,278.97 520.73,281.85 522.1,284.6 C523.47,287.35 524.77,290.33 525.4,292.8 C526.03,295.27 526.18,297.33 525.9,299.4 C525.62,301.47 524.75,303.55 523.7,305.2 C522.65,306.85 520.28,308.62 519.6,309.3 L507.3,309.3 Z" fill="#8d64a5"/>
<line x1="507.3" y1="268.6" x2="507.3" y2="309.3" stroke="#222" stroke-width="0.65"/>
<rect x="505.1" y="286.2" width="4.3" height="19.8" fill="#e4dbea" stroke="#222" stroke-width="0.7"/>
<line x1="505.1" y1="297.7" x2="509.4" y2="297.7" stroke="#000" stroke-width="1.9"/>
<circle cx="546.97" cy="243.8" r="2.25" fill="#2c8e5e" fill-opacity="0.92"/>
<circle cx="548.26" cy="249.3" r="2.25" fill="#2c8e5e" fill-opacity="0.92"/>
<circle cx="546.79" cy="259.4" r="2.25" fill="#2c8e5e" fill-opacity="0.92"/>
<circle cx="547.33" cy="272.1" r="2.25" fill="#2c8e5e" fill-opacity="0.92"/>
<circle cx="547.6" cy="273.5" r="2.25" fill="#2c8e5e" fill-opacity="0.92"/>
<circle cx="548.94" cy="276.5" r="2.25" fill="#2c8e5e" fill-opacity="0.92"/>
<circle cx="547.71" cy="280.9" r="2.25" fill="#2c8e5e" fill-opacity="0.92"/>
<circle cx="547.48" cy="283.5" r="2.25" fill="#2c8e5e" fill-opacity="0.92"/>
<circle cx="547.86" cy="286" r="2.25" fill="#2c8e5e" fill-opacity="0.92"/>
<circle cx="547.22" cy="291.8" r="2.25" fill="#2c8e5e" fill-opacity="0.92"/>
<circle cx="547.52" cy="296.9" r="2.25" fill="#2c8e5e" fill-opacity="0.92"/>
<circle cx="547.15" cy="309.3" r="2.25" fill="#2c8e5e" fill-opacity="0.92"/>
<path d="M556.4,244.2 L561.4,244.2 C562.13,246 564.12,251.1 565.8,255 C567.48,258.9 570.2,263.88 571.5,267.6 C572.8,271.32 573.28,274.48 573.6,277.3 C573.92,280.12 573.75,282.08 573.4,284.5 C573.05,286.92 572.32,289.37 571.5,291.8 C570.68,294.23 569.72,296.32 568.5,299.1 C567.28,301.88 564.92,306.93 564.2,308.5 L556.4,308.5 Z" fill="#288e5d"/>
<line x1="556.4" y1="244.2" x2="556.4" y2="308.5" stroke="#222" stroke-width="0.65"/>
<rect x="554.1" y="272.6" width="3.6" height="19.2" fill="#cfe7d8" stroke="#222" stroke-width="0.7"/>
<line x1="554.1" y1="279" x2="557.7" y2="279" stroke="#000" stroke-width="1.9"/>
<circle cx="588.08" cy="225" r="2.25" fill="#5b5e62" fill-opacity="0.92"/>
<circle cx="588.78" cy="249.4" r="2.25" fill="#5b5e62" fill-opacity="0.92"/>
<circle cx="586.73" cy="258.5" r="2.25" fill="#5b5e62" fill-opacity="0.92"/>
<circle cx="587.21" cy="271.5" r="2.25" fill="#5b5e62" fill-opacity="0.92"/>
<circle cx="586.71" cy="273.5" r="2.25" fill="#5b5e62" fill-opacity="0.92"/>
<circle cx="588.5" cy="275.5" r="2.25" fill="#5b5e62" fill-opacity="0.92"/>
<circle cx="586.89" cy="277.5" r="2.25" fill="#5b5e62" fill-opacity="0.92"/>
<circle cx="587.12" cy="279.5" r="2.25" fill="#5b5e62" fill-opacity="0.92"/>
<circle cx="587.58" cy="281.5" r="2.25" fill="#5b5e62" fill-opacity="0.92"/>
<circle cx="589" cy="283.5" r="2.25" fill="#5b5e62" fill-opacity="0.92"/>
<circle cx="587.47" cy="285.5" r="2.25" fill="#5b5e62" fill-opacity="0.92"/>
<circle cx="587.47" cy="287.5" r="2.25" fill="#5b5e62" fill-opacity="0.92"/>
<circle cx="586.73" cy="289.5" r="2.25" fill="#5b5e62" fill-opacity="0.92"/>
<circle cx="587.99" cy="291.5" r="2.25" fill="#5b5e62" fill-opacity="0.92"/>
<circle cx="588.36" cy="293.5" r="2.25" fill="#5b5e62" fill-opacity="0.92"/>
<circle cx="586.75" cy="295.5" r="2.25" fill="#5b5e62" fill-opacity="0.92"/>
<circle cx="588.04" cy="297.5" r="2.25" fill="#5b5e62" fill-opacity="0.92"/>
<circle cx="586.55" cy="299.5" r="2.25" fill="#5b5e62" fill-opacity="0.92"/>
<circle cx="588.03" cy="301.5" r="2.25" fill="#5b5e62" fill-opacity="0.92"/>
<circle cx="588.2" cy="303.5" r="2.25" fill="#5b5e62" fill-opacity="0.92"/>
<circle cx="588.17" cy="305.5" r="2.25" fill="#5b5e62" fill-opacity="0.92"/>
<circle cx="586.91" cy="307.5" r="2.25" fill="#5b5e62" fill-opacity="0.92"/>
<circle cx="588.37" cy="309.5" r="2.25" fill="#5b5e62" fill-opacity="0.92"/>
<circle cx="586.77" cy="311.8" r="2.25" fill="#5b5e62" fill-opacity="0.92"/>
<path d="M596.2,225 L598,225 C598.17,227.03 597.9,232.63 599,237.2 C600.1,241.77 602.7,247.6 604.6,252.4 C606.5,257.2 608.9,262.42 610.4,266 C611.9,269.58 612.88,271.27 613.6,273.9 C614.32,276.53 614.78,279.17 614.7,281.8 C614.62,284.43 613.82,287.07 613.1,289.7 C612.38,292.33 611.38,294.97 610.4,297.6 C609.42,300.23 608.12,303.38 607.2,305.5 C606.28,307.62 605.28,309.5 604.9,310.3 L596.2,310.3 Z" fill="#d8dbdc"/>
<line x1="596.2" y1="249.4" x2="596.2" y2="310.3" stroke="#222" stroke-width="0.65"/>
<rect x="594.1" y="273.1" width="4.8" height="24.5" fill="#f4f4f4" stroke="#222" stroke-width="0.7"/>
<line x1="594.1" y1="281.3" x2="598.9" y2="281.3" stroke="#000" stroke-width="1.9"/>
<circle cx="627.89" cy="272.6" r="2.25" fill="#8c60a8" fill-opacity="0.92"/>
<circle cx="626.62" cy="279.4" r="2.25" fill="#8c60a8" fill-opacity="0.92"/>
<circle cx="626.81" cy="282.6" r="2.25" fill="#8c60a8" fill-opacity="0.92"/>
<circle cx="628.48" cy="285.8" r="2.25" fill="#8c60a8" fill-opacity="0.92"/>
<circle cx="627.21" cy="288.9" r="2.25" fill="#8c60a8" fill-opacity="0.92"/>
<circle cx="627.85" cy="296.8" r="2.25" fill="#8c60a8" fill-opacity="0.92"/>
<circle cx="627.45" cy="299.2" r="2.25" fill="#8c60a8" fill-opacity="0.92"/>
<circle cx="627.57" cy="305.5" r="2.25" fill="#8c60a8" fill-opacity="0.92"/>
<circle cx="628.01" cy="308.7" r="2.25" fill="#8c60a8" fill-opacity="0.92"/>
<circle cx="628.34" cy="311.8" r="2.25" fill="#8c60a8" fill-opacity="0.92"/>
<path d="M635.1,273.1 L640.9,273.1 C641.83,274.55 644.78,279.03 646.5,281.8 C648.22,284.57 650.02,287.07 651.2,289.7 C652.38,292.33 653.6,294.97 653.6,297.6 C653.6,300.23 652.27,303.32 651.2,305.5 C650.13,307.68 647.87,309.83 647.2,310.7 L635.1,310.7 Z" fill="#8d64a5"/>
<line x1="635.1" y1="273.1" x2="635.1" y2="310.7" stroke="#222" stroke-width="0.65"/>
<rect x="633" y="291.3" width="4.8" height="15" fill="#e4dbea" stroke="#222" stroke-width="0.7"/>
<line x1="633" y1="298.4" x2="637.8" y2="298.4" stroke="#000" stroke-width="1.9"/>
<circle cx="660.9" cy="224" r="1.8" fill="#2c8e5e"/>
<text x="664.5" y="225.6" font-size="7.2" text-anchor="start" fill="#2e2e2e" stroke="#2e2e2e" stroke-width="0.12">Stabilizing</text>
<text x="664.5" y="232.6" font-size="7.2" text-anchor="start" fill="#2e2e2e" stroke="#2e2e2e" stroke-width="0.12">(n=16)</text>
<circle cx="660.9" cy="242.4" r="1.8" fill="#5b5e62"/>
<text x="664.5" y="244" font-size="7.2" text-anchor="start" fill="#2e2e2e" stroke="#2e2e2e" stroke-width="0.12">Neutral</text>
<text x="664.5" y="251" font-size="7.2" text-anchor="start" fill="#2e2e2e" stroke="#2e2e2e" stroke-width="0.12">(n=27)</text>
<circle cx="660.9" cy="260.8" r="1.8" fill="#8c60a8"/>
<text x="664.5" y="262.4" font-size="7.2" text-anchor="start" fill="#2e2e2e" stroke="#2e2e2e" stroke-width="0.12">Destabilizing</text>
<text x="664.5" y="269.4" font-size="7.2" text-anchor="start" fill="#2e2e2e" stroke="#2e2e2e" stroke-width="0.12">(n=18)</text>
</svg>
</body></html>
